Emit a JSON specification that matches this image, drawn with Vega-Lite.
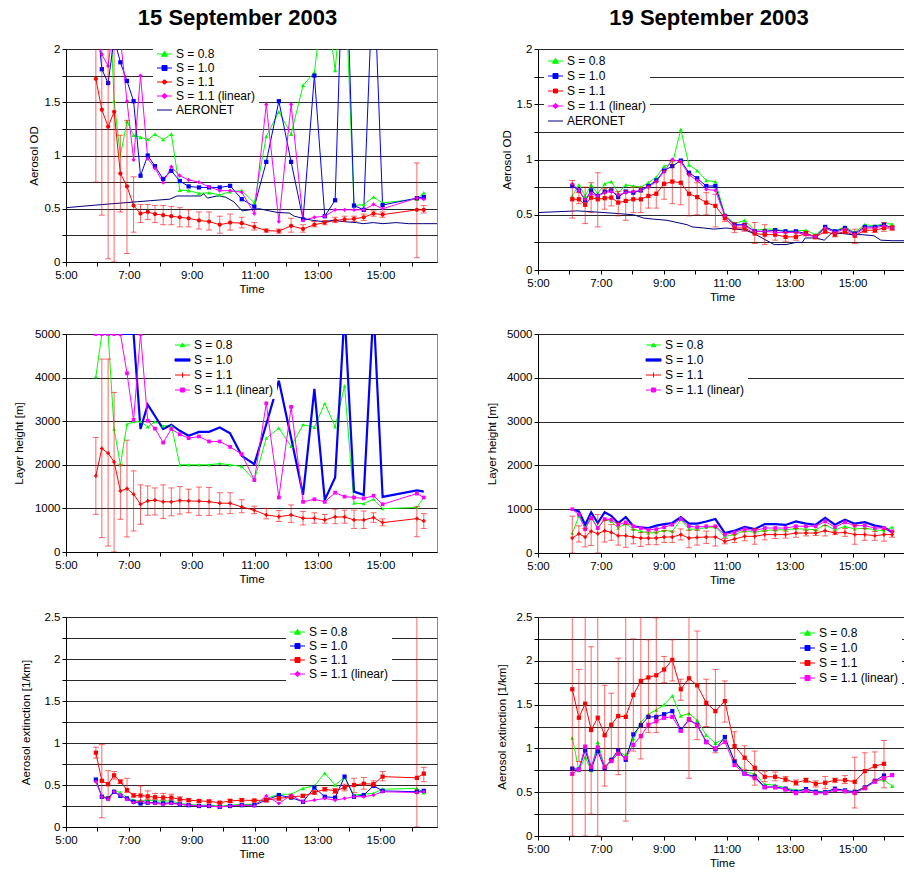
{
"$schema": "https://vega.github.io/schema/vega-lite/v6.json",
"background": "white",
"padding": {"left": 12, "top": 6, "right": 0, "bottom": 0},
"autosize": {"type": "pad"},
"bounds": "flush",
"columns": 2,
"spacing": {"row": 64, "column": 101},
"config": {
  "font": "Liberation Sans",
  "view": {"stroke": null},
  "axis": {"labelFont": "Liberation Sans", "titleFont": "Liberation Sans", "labelFontSize": 11.5, "titleFontSize": 11.5, "titleFontWeight": "normal", "labelColor": "#000", "titleColor": "#000", "domainColor": "#000", "tickColor": "#000", "tickSize": 4, "gridColor": "#2a2a2a", "gridOpacity": 1, "gridWidth": 1, "labelOverlap": false},
  "legend": {"labelFont": "Liberation Sans"},
  "title": {"font": "Liberation Sans", "fontSize": 22, "fontWeight": "bold", "color": "#000"}
},
"datasets": {
"a15": [
{"t":5.95,"s":"S = 0.8","v":2.6},{"t":6.14,"s":"S = 0.8","v":2.9},{"t":6.34,"s":"S = 0.8","v":2.8},{"t":6.53,"s":"S = 0.8","v":1.51},{"t":6.73,"s":"S = 0.8","v":1.0},{"t":6.94,"s":"S = 0.8","v":1.32},{"t":7.15,"s":"S = 0.8","v":1.19},{"t":7.37,"s":"S = 0.8","v":1.17},{"t":7.6,"s":"S = 0.8","v":1.15},{"t":7.83,"s":"S = 0.8","v":1.2},{"t":8.09,"s":"S = 0.8","v":1.15},{"t":8.35,"s":"S = 0.8","v":1.2},{"t":8.62,"s":"S = 0.8","v":0.675},{"t":8.9,"s":"S = 0.8","v":0.67},{"t":9.23,"s":"S = 0.8","v":0.645},{"t":9.55,"s":"S = 0.8","v":0.65},{"t":9.89,"s":"S = 0.8","v":0.63},{"t":10.22,"s":"S = 0.8","v":0.66},{"t":10.59,"s":"S = 0.8","v":0.67},{"t":10.99,"s":"S = 0.8","v":0.555},{"t":11.37,"s":"S = 0.8","v":1.18},{"t":11.77,"s":"S = 0.8","v":1.41},{"t":12.16,"s":"S = 0.8","v":1.2},{"t":12.54,"s":"S = 0.8","v":1.66},{"t":12.9,"s":"S = 0.8","v":1.78},{"t":13.23,"s":"S = 0.8","v":2.6},{"t":13.56,"s":"S = 0.8","v":1.8},{"t":13.86,"s":"S = 0.8","v":2.8},{"t":14.16,"s":"S = 0.8","v":0.53},{"t":14.47,"s":"S = 0.8","v":0.54},{"t":14.78,"s":"S = 0.8","v":0.61},{"t":15.07,"s":"S = 0.8","v":0.555},{"t":16.16,"s":"S = 0.8","v":0.59},{"t":16.38,"s":"S = 0.8","v":0.65},
{"t":5.95,"s":"S = 1.0","v":2.4},{"t":6.14,"s":"S = 1.0","v":1.81},{"t":6.34,"s":"S = 1.0","v":1.68},{"t":6.53,"s":"S = 1.0","v":2.1},{"t":6.73,"s":"S = 1.0","v":1.875},{"t":6.94,"s":"S = 1.0","v":1.7},{"t":7.15,"s":"S = 1.0","v":1.51},{"t":7.37,"s":"S = 1.0","v":0.81},{"t":7.6,"s":"S = 1.0","v":1.0},{"t":7.83,"s":"S = 1.0","v":0.9},{"t":8.09,"s":"S = 1.0","v":0.78},{"t":8.35,"s":"S = 1.0","v":0.855},{"t":8.62,"s":"S = 1.0","v":0.76},{"t":8.9,"s":"S = 1.0","v":0.71},{"t":9.23,"s":"S = 1.0","v":0.7},{"t":9.55,"s":"S = 1.0","v":0.7},{"t":9.89,"s":"S = 1.0","v":0.7},{"t":10.22,"s":"S = 1.0","v":0.715},{"t":10.59,"s":"S = 1.0","v":0.59},{"t":10.99,"s":"S = 1.0","v":0.52},{"t":11.37,"s":"S = 1.0","v":0.94},{"t":11.77,"s":"S = 1.0","v":1.51},{"t":12.16,"s":"S = 1.0","v":0.94},{"t":12.54,"s":"S = 1.0","v":0.4},{"t":12.9,"s":"S = 1.0","v":1.75},{"t":13.23,"s":"S = 1.0","v":0.43},{"t":13.56,"s":"S = 1.0","v":0.58},{"t":13.86,"s":"S = 1.0","v":3.4},{"t":14.16,"s":"S = 1.0","v":0.53},{"t":14.47,"s":"S = 1.0","v":0.49},{"t":14.78,"s":"S = 1.0","v":2.8},{"t":15.07,"s":"S = 1.0","v":0.535},{"t":16.16,"s":"S = 1.0","v":0.6},{"t":16.38,"s":"S = 1.0","v":0.61},
{"t":5.95,"s":"S = 1.1","v":1.72,"lo":0.75,"hi":2.6},{"t":6.14,"s":"S = 1.1","v":1.43,"lo":0.44,"hi":2.6},{"t":6.34,"s":"S = 1.1","v":1.27,"lo":0.03,"hi":2.6},{"t":6.53,"s":"S = 1.1","v":1.41,"lo":0,"hi":2.6},{"t":6.73,"s":"S = 1.1","v":0.83,"lo":0.47,"hi":1.19},{"t":6.94,"s":"S = 1.1","v":0.71,"lo":0.08,"hi":1.33},{"t":7.15,"s":"S = 1.1","v":0.53,"lo":0.28,"hi":0.8},{"t":7.37,"s":"S = 1.1","v":0.455,"lo":0.37,"hi":0.54},{"t":7.6,"s":"S = 1.1","v":0.47,"lo":0.4,"hi":0.54},{"t":7.83,"s":"S = 1.1","v":0.45,"lo":0.37,"hi":0.53},{"t":8.09,"s":"S = 1.1","v":0.44,"lo":0.35,"hi":0.53},{"t":8.35,"s":"S = 1.1","v":0.43,"lo":0.35,"hi":0.52},{"t":8.62,"s":"S = 1.1","v":0.42,"lo":0.33,"hi":0.51},{"t":8.9,"s":"S = 1.1","v":0.41,"lo":0.33,"hi":0.49},{"t":9.23,"s":"S = 1.1","v":0.39,"lo":0.31,"hi":0.47},{"t":9.55,"s":"S = 1.1","v":0.38,"lo":0.3,"hi":0.47},{"t":9.89,"s":"S = 1.1","v":0.35,"lo":0.27,"hi":0.43},{"t":10.22,"s":"S = 1.1","v":0.37,"lo":0.3,"hi":0.45},{"t":10.59,"s":"S = 1.1","v":0.365,"lo":0.32,"hi":0.42},{"t":10.99,"s":"S = 1.1","v":0.33,"lo":0.3,"hi":0.37},{"t":11.37,"s":"S = 1.1","v":0.295,"lo":0.28,"hi":0.31},{"t":11.77,"s":"S = 1.1","v":0.29,"lo":0.27,"hi":0.31},{"t":12.16,"s":"S = 1.1","v":0.34,"lo":0.28,"hi":0.41},{"t":12.54,"s":"S = 1.1","v":0.31,"lo":0.28,"hi":0.35},{"t":12.9,"s":"S = 1.1","v":0.35,"lo":0.33,"hi":0.38},{"t":13.23,"s":"S = 1.1","v":0.37,"lo":0.35,"hi":0.39},{"t":13.56,"s":"S = 1.1","v":0.39,"lo":0.37,"hi":0.42},{"t":13.86,"s":"S = 1.1","v":0.4,"lo":0.38,"hi":0.43},{"t":14.16,"s":"S = 1.1","v":0.405,"lo":0.38,"hi":0.43},{"t":14.47,"s":"S = 1.1","v":0.42,"lo":0.39,"hi":0.45},{"t":14.78,"s":"S = 1.1","v":0.455,"lo":0.43,"hi":0.48},{"t":15.07,"s":"S = 1.1","v":0.445,"lo":0.42,"hi":0.47},{"t":16.16,"s":"S = 1.1","v":0.49,"lo":0.04,"hi":0.93},{"t":16.38,"s":"S = 1.1","v":0.49,"lo":0.46,"hi":0.53},
{"t":5.95,"s":"S = 1.1 (linear)","v":2.15},{"t":6.14,"s":"S = 1.1 (linear)","v":1.95},{"t":6.34,"s":"S = 1.1 (linear)","v":1.84},{"t":6.53,"s":"S = 1.1 (linear)","v":2.3},{"t":6.73,"s":"S = 1.1 (linear)","v":2.1},{"t":6.94,"s":"S = 1.1 (linear)","v":1.51},{"t":7.15,"s":"S = 1.1 (linear)","v":0.96},{"t":7.37,"s":"S = 1.1 (linear)","v":1.75},{"t":7.6,"s":"S = 1.1 (linear)","v":0.97},{"t":7.83,"s":"S = 1.1 (linear)","v":0.88},{"t":8.09,"s":"S = 1.1 (linear)","v":0.745},{"t":8.35,"s":"S = 1.1 (linear)","v":0.895},{"t":8.62,"s":"S = 1.1 (linear)","v":0.81},{"t":8.9,"s":"S = 1.1 (linear)","v":0.77},{"t":9.23,"s":"S = 1.1 (linear)","v":0.75},{"t":9.55,"s":"S = 1.1 (linear)","v":0.705},{"t":9.89,"s":"S = 1.1 (linear)","v":0.67},{"t":10.22,"s":"S = 1.1 (linear)","v":0.67},{"t":10.59,"s":"S = 1.1 (linear)","v":0.655},{"t":10.99,"s":"S = 1.1 (linear)","v":0.455},{"t":11.37,"s":"S = 1.1 (linear)","v":1.48},{"t":11.77,"s":"S = 1.1 (linear)","v":0.38},{"t":12.16,"s":"S = 1.1 (linear)","v":1.48},{"t":12.54,"s":"S = 1.1 (linear)","v":0.39},{"t":12.9,"s":"S = 1.1 (linear)","v":0.42},{"t":13.23,"s":"S = 1.1 (linear)","v":0.43},{"t":13.56,"s":"S = 1.1 (linear)","v":0.49},{"t":13.86,"s":"S = 1.1 (linear)","v":0.49},{"t":14.16,"s":"S = 1.1 (linear)","v":0.49},{"t":14.47,"s":"S = 1.1 (linear)","v":0.49},{"t":14.78,"s":"S = 1.1 (linear)","v":0.54},{"t":15.07,"s":"S = 1.1 (linear)","v":0.5},{"t":16.16,"s":"S = 1.1 (linear)","v":0.6},{"t":16.38,"s":"S = 1.1 (linear)","v":0.59},
{"t":5.0,"s":"AERONET","v":0.51},{"t":6.17,"s":"AERONET","v":0.54},{"t":7.24,"s":"AERONET","v":0.565},{"t":8.3,"s":"AERONET","v":0.59},{"t":8.53,"s":"AERONET","v":0.62},{"t":8.95,"s":"AERONET","v":0.62},{"t":9.28,"s":"AERONET","v":0.62},{"t":9.38,"s":"AERONET","v":0.64},{"t":9.5,"s":"AERONET","v":0.6},{"t":9.8,"s":"AERONET","v":0.62},{"t":10.07,"s":"AERONET","v":0.61},{"t":10.34,"s":"AERONET","v":0.565},{"t":10.6,"s":"AERONET","v":0.48},{"t":10.85,"s":"AERONET","v":0.49},{"t":11.15,"s":"AERONET","v":0.5},{"t":11.47,"s":"AERONET","v":0.48},{"t":11.73,"s":"AERONET","v":0.465},{"t":12.1,"s":"AERONET","v":0.46},{"t":12.26,"s":"AERONET","v":0.43},{"t":12.54,"s":"AERONET","v":0.41},{"t":12.86,"s":"AERONET","v":0.39},{"t":13.17,"s":"AERONET","v":0.38},{"t":13.5,"s":"AERONET","v":0.39},{"t":13.92,"s":"AERONET","v":0.377},{"t":14.24,"s":"AERONET","v":0.37},{"t":14.45,"s":"AERONET","v":0.36},{"t":14.77,"s":"AERONET","v":0.37},{"t":15.08,"s":"AERONET","v":0.36},{"t":15.5,"s":"AERONET","v":0.37},{"t":15.9,"s":"AERONET","v":0.36},{"t":16.33,"s":"AERONET","v":0.36},{"t":16.8,"s":"AERONET","v":0.36}
],
"a19": [
{"t":6.09,"s":"S = 0.8","v":0.67},{"t":6.3,"s":"S = 0.8","v":0.77},{"t":6.5,"s":"S = 0.8","v":0.67},{"t":6.69,"s":"S = 0.8","v":0.77},{"t":6.9,"s":"S = 0.8","v":0.69},{"t":7.12,"s":"S = 0.8","v":0.78},{"t":7.33,"s":"S = 0.8","v":0.8},{"t":7.55,"s":"S = 0.8","v":0.7},{"t":7.79,"s":"S = 0.8","v":0.77},{"t":8.03,"s":"S = 0.8","v":0.76},{"t":8.27,"s":"S = 0.8","v":0.75},{"t":8.51,"s":"S = 0.8","v":0.79},{"t":8.76,"s":"S = 0.8","v":0.84},{"t":9.01,"s":"S = 0.8","v":0.94},{"t":9.27,"s":"S = 0.8","v":0.96},{"t":9.54,"s":"S = 0.8","v":1.27},{"t":9.8,"s":"S = 0.8","v":0.95},{"t":10.06,"s":"S = 0.8","v":0.9},{"t":10.35,"s":"S = 0.8","v":0.81},{"t":10.64,"s":"S = 0.8","v":0.8},{"t":10.94,"s":"S = 0.8","v":0.5},{"t":11.25,"s":"S = 0.8","v":0.42},{"t":11.57,"s":"S = 0.8","v":0.45},{"t":11.89,"s":"S = 0.8","v":0.36},{"t":12.21,"s":"S = 0.8","v":0.37},{"t":12.54,"s":"S = 0.8","v":0.37},{"t":12.87,"s":"S = 0.8","v":0.35},{"t":13.2,"s":"S = 0.8","v":0.355},{"t":13.52,"s":"S = 0.8","v":0.36},{"t":13.83,"s":"S = 0.8","v":0.32},{"t":14.13,"s":"S = 0.8","v":0.39},{"t":14.44,"s":"S = 0.8","v":0.355},{"t":14.76,"s":"S = 0.8","v":0.39},{"t":15.07,"s":"S = 0.8","v":0.34},{"t":15.39,"s":"S = 0.8","v":0.41},{"t":15.71,"s":"S = 0.8","v":0.4},{"t":16.0,"s":"S = 0.8","v":0.42},{"t":16.26,"s":"S = 0.8","v":0.415},
{"t":6.09,"s":"S = 1.0","v":0.76},{"t":6.3,"s":"S = 1.0","v":0.72},{"t":6.5,"s":"S = 1.0","v":0.63},{"t":6.69,"s":"S = 1.0","v":0.72},{"t":6.9,"s":"S = 1.0","v":0.67},{"t":7.12,"s":"S = 1.0","v":0.71},{"t":7.33,"s":"S = 1.0","v":0.72},{"t":7.55,"s":"S = 1.0","v":0.66},{"t":7.79,"s":"S = 1.0","v":0.71},{"t":8.03,"s":"S = 1.0","v":0.7},{"t":8.27,"s":"S = 1.0","v":0.72},{"t":8.51,"s":"S = 1.0","v":0.76},{"t":8.76,"s":"S = 1.0","v":0.81},{"t":9.01,"s":"S = 1.0","v":0.9},{"t":9.27,"s":"S = 1.0","v":0.94},{"t":9.54,"s":"S = 1.0","v":0.99},{"t":9.8,"s":"S = 1.0","v":0.88},{"t":10.06,"s":"S = 1.0","v":0.83},{"t":10.35,"s":"S = 1.0","v":0.76},{"t":10.64,"s":"S = 1.0","v":0.76},{"t":10.94,"s":"S = 1.0","v":0.49},{"t":11.25,"s":"S = 1.0","v":0.41},{"t":11.57,"s":"S = 1.0","v":0.41},{"t":11.89,"s":"S = 1.0","v":0.35},{"t":12.21,"s":"S = 1.0","v":0.35},{"t":12.54,"s":"S = 1.0","v":0.36},{"t":12.87,"s":"S = 1.0","v":0.35},{"t":13.2,"s":"S = 1.0","v":0.35},{"t":13.52,"s":"S = 1.0","v":0.33},{"t":13.83,"s":"S = 1.0","v":0.3},{"t":14.13,"s":"S = 1.0","v":0.39},{"t":14.44,"s":"S = 1.0","v":0.35},{"t":14.76,"s":"S = 1.0","v":0.38},{"t":15.07,"s":"S = 1.0","v":0.33},{"t":15.39,"s":"S = 1.0","v":0.39},{"t":15.71,"s":"S = 1.0","v":0.39},{"t":16.0,"s":"S = 1.0","v":0.41},{"t":16.26,"s":"S = 1.0","v":0.38},
{"t":6.09,"s":"S = 1.1","v":0.64,"lo":0.47,"hi":0.81},{"t":6.3,"s":"S = 1.1","v":0.64,"lo":0.6,"hi":0.7},{"t":6.5,"s":"S = 1.1","v":0.59,"lo":0.42,"hi":0.75},{"t":6.69,"s":"S = 1.1","v":0.655,"lo":0.52,"hi":0.79},{"t":6.9,"s":"S = 1.1","v":0.64,"lo":0.39,"hi":0.88},{"t":7.12,"s":"S = 1.1","v":0.65,"lo":0.55,"hi":0.74},{"t":7.33,"s":"S = 1.1","v":0.655,"lo":0.58,"hi":0.73},{"t":7.55,"s":"S = 1.1","v":0.61,"lo":0.49,"hi":0.71},{"t":7.79,"s":"S = 1.1","v":0.625,"lo":0.45,"hi":0.72},{"t":8.03,"s":"S = 1.1","v":0.64,"lo":0.52,"hi":0.75},{"t":8.27,"s":"S = 1.1","v":0.64,"lo":0.52,"hi":0.75},{"t":8.51,"s":"S = 1.1","v":0.67,"lo":0.56,"hi":0.76},{"t":8.76,"s":"S = 1.1","v":0.69,"lo":0.56,"hi":0.8},{"t":9.01,"s":"S = 1.1","v":0.78,"lo":0.64,"hi":0.9},{"t":9.27,"s":"S = 1.1","v":0.8,"lo":0.6,"hi":0.98},{"t":9.54,"s":"S = 1.1","v":0.79,"lo":0.59,"hi":0.98},{"t":9.8,"s":"S = 1.1","v":0.69,"lo":0.49,"hi":0.87},{"t":10.06,"s":"S = 1.1","v":0.66,"lo":0.5,"hi":0.79},{"t":10.35,"s":"S = 1.1","v":0.61,"lo":0.5,"hi":0.7},{"t":10.64,"s":"S = 1.1","v":0.58,"lo":0.39,"hi":0.685},{"t":10.94,"s":"S = 1.1","v":0.47,"lo":0.44,"hi":0.5},{"t":11.25,"s":"S = 1.1","v":0.38,"lo":0.34,"hi":0.43},{"t":11.57,"s":"S = 1.1","v":0.38,"lo":0.35,"hi":0.42},{"t":11.89,"s":"S = 1.1","v":0.33,"lo":0.24,"hi":0.43},{"t":12.21,"s":"S = 1.1","v":0.32,"lo":0.23,"hi":0.41},{"t":12.54,"s":"S = 1.1","v":0.32,"lo":0.27,"hi":0.36},{"t":12.87,"s":"S = 1.1","v":0.3,"lo":0.26,"hi":0.34},{"t":13.2,"s":"S = 1.1","v":0.3,"lo":0.27,"hi":0.34},{"t":13.52,"s":"S = 1.1","v":0.33,"lo":0.31,"hi":0.35},{"t":13.83,"s":"S = 1.1","v":0.3,"lo":0.28,"hi":0.32},{"t":14.13,"s":"S = 1.1","v":0.35,"lo":0.33,"hi":0.37},{"t":14.44,"s":"S = 1.1","v":0.32,"lo":0.3,"hi":0.34},{"t":14.76,"s":"S = 1.1","v":0.35,"lo":0.33,"hi":0.37},{"t":15.07,"s":"S = 1.1","v":0.31,"lo":0.24,"hi":0.37},{"t":15.39,"s":"S = 1.1","v":0.36,"lo":0.34,"hi":0.38},{"t":15.71,"s":"S = 1.1","v":0.36,"lo":0.34,"hi":0.38},{"t":16.0,"s":"S = 1.1","v":0.38,"lo":0.35,"hi":0.43},{"t":16.26,"s":"S = 1.1","v":0.38,"lo":0.36,"hi":0.4},
{"t":6.09,"s":"S = 1.1 (linear)","v":0.78},{"t":6.3,"s":"S = 1.1 (linear)","v":0.72},{"t":6.5,"s":"S = 1.1 (linear)","v":0.64},{"t":6.69,"s":"S = 1.1 (linear)","v":0.69},{"t":6.9,"s":"S = 1.1 (linear)","v":0.67},{"t":7.12,"s":"S = 1.1 (linear)","v":0.7},{"t":7.33,"s":"S = 1.1 (linear)","v":0.71},{"t":7.55,"s":"S = 1.1 (linear)","v":0.68},{"t":7.79,"s":"S = 1.1 (linear)","v":0.7},{"t":8.03,"s":"S = 1.1 (linear)","v":0.71},{"t":8.27,"s":"S = 1.1 (linear)","v":0.72},{"t":8.51,"s":"S = 1.1 (linear)","v":0.75},{"t":8.76,"s":"S = 1.1 (linear)","v":0.8},{"t":9.01,"s":"S = 1.1 (linear)","v":0.89},{"t":9.27,"s":"S = 1.1 (linear)","v":1.0},{"t":9.54,"s":"S = 1.1 (linear)","v":0.98},{"t":9.8,"s":"S = 1.1 (linear)","v":0.86},{"t":10.06,"s":"S = 1.1 (linear)","v":0.81},{"t":10.35,"s":"S = 1.1 (linear)","v":0.73},{"t":10.64,"s":"S = 1.1 (linear)","v":0.72},{"t":10.94,"s":"S = 1.1 (linear)","v":0.49},{"t":11.25,"s":"S = 1.1 (linear)","v":0.4},{"t":11.57,"s":"S = 1.1 (linear)","v":0.4},{"t":11.89,"s":"S = 1.1 (linear)","v":0.35},{"t":12.21,"s":"S = 1.1 (linear)","v":0.35},{"t":12.54,"s":"S = 1.1 (linear)","v":0.34},{"t":12.87,"s":"S = 1.1 (linear)","v":0.34},{"t":13.2,"s":"S = 1.1 (linear)","v":0.34},{"t":13.52,"s":"S = 1.1 (linear)","v":0.32},{"t":13.83,"s":"S = 1.1 (linear)","v":0.3},{"t":14.13,"s":"S = 1.1 (linear)","v":0.38},{"t":14.44,"s":"S = 1.1 (linear)","v":0.34},{"t":14.76,"s":"S = 1.1 (linear)","v":0.37},{"t":15.07,"s":"S = 1.1 (linear)","v":0.32},{"t":15.39,"s":"S = 1.1 (linear)","v":0.38},{"t":15.71,"s":"S = 1.1 (linear)","v":0.38},{"t":16.0,"s":"S = 1.1 (linear)","v":0.4},{"t":16.26,"s":"S = 1.1 (linear)","v":0.38},
{"t":5.0,"s":"AERONET","v":0.52},{"t":6.25,"s":"AERONET","v":0.535},{"t":7.1,"s":"AERONET","v":0.52},{"t":7.56,"s":"AERONET","v":0.51},{"t":8.04,"s":"AERONET","v":0.5},{"t":8.36,"s":"AERONET","v":0.47},{"t":8.68,"s":"AERONET","v":0.46},{"t":9.1,"s":"AERONET","v":0.45},{"t":9.42,"s":"AERONET","v":0.43},{"t":9.74,"s":"AERONET","v":0.41},{"t":9.9,"s":"AERONET","v":0.39},{"t":10.27,"s":"AERONET","v":0.38},{"t":10.59,"s":"AERONET","v":0.37},{"t":10.98,"s":"AERONET","v":0.38},{"t":11.3,"s":"AERONET","v":0.37},{"t":11.61,"s":"AERONET","v":0.36},{"t":11.93,"s":"AERONET","v":0.32},{"t":12.25,"s":"AERONET","v":0.27},{"t":12.51,"s":"AERONET","v":0.23},{"t":12.89,"s":"AERONET","v":0.23},{"t":13.2,"s":"AERONET","v":0.25},{"t":13.4,"s":"AERONET","v":0.25},{"t":13.5,"s":"AERONET","v":0.29},{"t":13.83,"s":"AERONET","v":0.29},{"t":14.1,"s":"AERONET","v":0.27},{"t":14.36,"s":"AERONET","v":0.34},{"t":14.67,"s":"AERONET","v":0.33},{"t":14.99,"s":"AERONET","v":0.32},{"t":15.3,"s":"AERONET","v":0.32},{"t":15.68,"s":"AERONET","v":0.31},{"t":15.9,"s":"AERONET","v":0.27},{"t":16.26,"s":"AERONET","v":0.265},{"t":16.8,"s":"AERONET","v":0.265}
],
"h15": [
{"t":5.95,"s":"S = 0.8","v":4020},{"t":6.14,"s":"S = 0.8","v":5000},{"t":6.34,"s":"S = 0.8","v":5000},{"t":6.53,"s":"S = 0.8","v":2820},{"t":6.73,"s":"S = 0.8","v":2000},{"t":6.94,"s":"S = 0.8","v":2930},{"t":7.15,"s":"S = 0.8","v":2990},{"t":7.37,"s":"S = 0.8","v":2990},{"t":7.6,"s":"S = 0.8","v":2870},{"t":7.83,"s":"S = 0.8","v":2990},{"t":8.09,"s":"S = 0.8","v":2895},{"t":8.35,"s":"S = 0.8","v":2895},{"t":8.62,"s":"S = 0.8","v":2000},{"t":8.9,"s":"S = 0.8","v":2000},{"t":9.23,"s":"S = 0.8","v":2000},{"t":9.55,"s":"S = 0.8","v":2000},{"t":9.89,"s":"S = 0.8","v":2030},{"t":10.22,"s":"S = 0.8","v":2000},{"t":10.59,"s":"S = 0.8","v":1960},{"t":10.99,"s":"S = 0.8","v":1650},{"t":11.37,"s":"S = 0.8","v":2610},{"t":11.77,"s":"S = 0.8","v":2840},{"t":12.16,"s":"S = 0.8","v":2420},{"t":12.54,"s":"S = 0.8","v":2920},{"t":12.9,"s":"S = 0.8","v":2860},{"t":13.23,"s":"S = 0.8","v":3410},{"t":13.56,"s":"S = 0.8","v":2870},{"t":13.86,"s":"S = 0.8","v":3810},{"t":14.16,"s":"S = 0.8","v":1120},{"t":14.47,"s":"S = 0.8","v":1110},{"t":14.78,"s":"S = 0.8","v":1210},{"t":15.07,"s":"S = 0.8","v":995},{"t":16.16,"s":"S = 0.8","v":1020},{"t":16.38,"s":"S = 0.8","v":1250},
{"t":5.95,"s":"S = 1.0","v":5000},{"t":6.14,"s":"S = 1.0","v":5000},{"t":6.34,"s":"S = 1.0","v":5000},{"t":6.53,"s":"S = 1.0","v":5000},{"t":6.73,"s":"S = 1.0","v":5000},{"t":6.94,"s":"S = 1.0","v":5000},{"t":7.15,"s":"S = 1.0","v":5000},{"t":7.37,"s":"S = 1.0","v":2820},{"t":7.6,"s":"S = 1.0","v":3380},{"t":7.83,"s":"S = 1.0","v":3120},{"t":8.09,"s":"S = 1.0","v":2820},{"t":8.35,"s":"S = 1.0","v":2920},{"t":8.62,"s":"S = 1.0","v":2780},{"t":8.9,"s":"S = 1.0","v":2665},{"t":9.23,"s":"S = 1.0","v":2755},{"t":9.55,"s":"S = 1.0","v":2755},{"t":9.89,"s":"S = 1.0","v":2855},{"t":10.22,"s":"S = 1.0","v":2720},{"t":10.59,"s":"S = 1.0","v":2205},{"t":10.99,"s":"S = 1.0","v":2015},{"t":11.37,"s":"S = 1.0","v":2930},{"t":11.77,"s":"S = 1.0","v":3930},{"t":12.16,"s":"S = 1.0","v":2620},{"t":12.54,"s":"S = 1.0","v":1310},{"t":12.9,"s":"S = 1.0","v":3740},{"t":13.23,"s":"S = 1.0","v":1195},{"t":13.56,"s":"S = 1.0","v":1710},{"t":13.86,"s":"S = 1.0","v":5500},{"t":14.16,"s":"S = 1.0","v":1385},{"t":14.47,"s":"S = 1.0","v":1310},{"t":14.78,"s":"S = 1.0","v":5600},{"t":15.07,"s":"S = 1.0","v":1265},{"t":16.16,"s":"S = 1.0","v":1415},{"t":16.38,"s":"S = 1.0","v":1385},
{"t":5.95,"s":"S = 1.1","v":1746,"lo":865,"hi":2627},{"t":6.14,"s":"S = 1.1","v":2374,"lo":330,"hi":4426},{"t":6.34,"s":"S = 1.1","v":2266,"lo":138,"hi":4426},{"t":6.53,"s":"S = 1.1","v":2067,"lo":0,"hi":3660},{"t":6.73,"s":"S = 1.1","v":1400,"lo":750,"hi":2014},{"t":6.94,"s":"S = 1.1","v":1455,"lo":345,"hi":2565},{"t":7.15,"s":"S = 1.1","v":1325,"lo":482,"hi":1860},{"t":7.37,"s":"S = 1.1","v":1095,"lo":635,"hi":1540},{"t":7.6,"s":"S = 1.1","v":1172,"lo":842,"hi":1516},{"t":7.83,"s":"S = 1.1","v":1190,"lo":850,"hi":1470},{"t":8.09,"s":"S = 1.1","v":1155,"lo":770,"hi":1540},{"t":8.35,"s":"S = 1.1","v":1150,"lo":830,"hi":1470},{"t":8.62,"s":"S = 1.1","v":1180,"lo":870,"hi":1500},{"t":8.9,"s":"S = 1.1","v":1170,"lo":900,"hi":1440},{"t":9.23,"s":"S = 1.1","v":1165,"lo":840,"hi":1490},{"t":9.55,"s":"S = 1.1","v":1155,"lo":840,"hi":1480},{"t":9.89,"s":"S = 1.1","v":1120,"lo":870,"hi":1360},{"t":10.22,"s":"S = 1.1","v":1118,"lo":880,"hi":1360},{"t":10.59,"s":"S = 1.1","v":1034,"lo":900,"hi":1200},{"t":10.99,"s":"S = 1.1","v":957,"lo":880,"hi":1050},{"t":11.37,"s":"S = 1.1","v":850,"lo":760,"hi":1000},{"t":11.77,"s":"S = 1.1","v":810,"lo":700,"hi":950},{"t":12.16,"s":"S = 1.1","v":850,"lo":680,"hi":1080},{"t":12.54,"s":"S = 1.1","v":773,"lo":620,"hi":930},{"t":12.9,"s":"S = 1.1","v":773,"lo":660,"hi":900},{"t":13.23,"s":"S = 1.1","v":735,"lo":660,"hi":860},{"t":13.56,"s":"S = 1.1","v":804,"lo":650,"hi":980},{"t":13.86,"s":"S = 1.1","v":804,"lo":660,"hi":960},{"t":14.16,"s":"S = 1.1","v":735,"lo":540,"hi":960},{"t":14.47,"s":"S = 1.1","v":735,"lo":540,"hi":940},{"t":14.78,"s":"S = 1.1","v":790,"lo":680,"hi":900},{"t":15.07,"s":"S = 1.1","v":674,"lo":600,"hi":760},{"t":16.16,"s":"S = 1.1","v":766,"lo":350,"hi":1040},{"t":16.38,"s":"S = 1.1","v":712,"lo":540,"hi":880},
{"t":5.95,"s":"S = 1.1 (linear)","v":5000},{"t":6.14,"s":"S = 1.1 (linear)","v":5000},{"t":6.34,"s":"S = 1.1 (linear)","v":5000},{"t":6.53,"s":"S = 1.1 (linear)","v":5000},{"t":6.73,"s":"S = 1.1 (linear)","v":5000},{"t":6.94,"s":"S = 1.1 (linear)","v":4100},{"t":7.15,"s":"S = 1.1 (linear)","v":3030},{"t":7.37,"s":"S = 1.1 (linear)","v":5000},{"t":7.6,"s":"S = 1.1 (linear)","v":3010},{"t":7.83,"s":"S = 1.1 (linear)","v":2830},{"t":8.09,"s":"S = 1.1 (linear)","v":2510},{"t":8.35,"s":"S = 1.1 (linear)","v":2820},{"t":8.62,"s":"S = 1.1 (linear)","v":2700},{"t":8.9,"s":"S = 1.1 (linear)","v":2610},{"t":9.23,"s":"S = 1.1 (linear)","v":2650},{"t":9.55,"s":"S = 1.1 (linear)","v":2535},{"t":9.89,"s":"S = 1.1 (linear)","v":2535},{"t":10.22,"s":"S = 1.1 (linear)","v":2410},{"t":10.59,"s":"S = 1.1 (linear)","v":2245},{"t":10.99,"s":"S = 1.1 (linear)","v":1650},{"t":11.37,"s":"S = 1.1 (linear)","v":3410},{"t":11.77,"s":"S = 1.1 (linear)","v":1250},{"t":12.16,"s":"S = 1.1 (linear)","v":3330},{"t":12.54,"s":"S = 1.1 (linear)","v":1150},{"t":12.9,"s":"S = 1.1 (linear)","v":1210},{"t":13.23,"s":"S = 1.1 (linear)","v":1150},{"t":13.56,"s":"S = 1.1 (linear)","v":1360},{"t":13.86,"s":"S = 1.1 (linear)","v":1270},{"t":14.16,"s":"S = 1.1 (linear)","v":1250},{"t":14.47,"s":"S = 1.1 (linear)","v":1230},{"t":14.78,"s":"S = 1.1 (linear)","v":1290},{"t":15.07,"s":"S = 1.1 (linear)","v":1095},{"t":16.16,"s":"S = 1.1 (linear)","v":1340},{"t":16.38,"s":"S = 1.1 (linear)","v":1250}
],
"h19": [
{"t":6.09,"s":"S = 0.8","v":455},{"t":6.3,"s":"S = 0.8","v":835},{"t":6.5,"s":"S = 0.8","v":570},{"t":6.69,"s":"S = 0.8","v":835},{"t":6.9,"s":"S = 0.8","v":570},{"t":7.12,"s":"S = 0.8","v":760},{"t":7.33,"s":"S = 0.8","v":720},{"t":7.55,"s":"S = 0.8","v":570},{"t":7.79,"s":"S = 0.8","v":670},{"t":8.03,"s":"S = 0.8","v":545},{"t":8.27,"s":"S = 0.8","v":495},{"t":8.51,"s":"S = 0.8","v":455},{"t":8.76,"s":"S = 0.8","v":470},{"t":9.01,"s":"S = 0.8","v":515},{"t":9.27,"s":"S = 0.8","v":495},{"t":9.54,"s":"S = 0.8","v":760},{"t":9.8,"s":"S = 0.8","v":545},{"t":10.06,"s":"S = 0.8","v":545},{"t":10.35,"s":"S = 0.8","v":585},{"t":10.64,"s":"S = 0.8","v":590},{"t":10.94,"s":"S = 0.8","v":380},{"t":11.25,"s":"S = 0.8","v":420},{"t":11.57,"s":"S = 0.8","v":515},{"t":11.89,"s":"S = 0.8","v":470},{"t":12.21,"s":"S = 0.8","v":515},{"t":12.54,"s":"S = 0.8","v":530},{"t":12.87,"s":"S = 0.8","v":530},{"t":13.2,"s":"S = 0.8","v":555},{"t":13.52,"s":"S = 0.8","v":545},{"t":13.83,"s":"S = 0.8","v":530},{"t":14.13,"s":"S = 0.8","v":645},{"t":14.44,"s":"S = 0.8","v":530},{"t":14.76,"s":"S = 0.8","v":610},{"t":15.07,"s":"S = 0.8","v":545},{"t":15.39,"s":"S = 0.8","v":570},{"t":15.71,"s":"S = 0.8","v":530},{"t":16.0,"s":"S = 0.8","v":510},{"t":16.26,"s":"S = 0.8","v":590},
{"t":6.09,"s":"S = 1.0","v":1000},{"t":6.3,"s":"S = 1.0","v":950},{"t":6.5,"s":"S = 1.0","v":645},{"t":6.69,"s":"S = 1.0","v":930},{"t":6.9,"s":"S = 1.0","v":685},{"t":7.12,"s":"S = 1.0","v":930},{"t":7.33,"s":"S = 1.0","v":850},{"t":7.55,"s":"S = 1.0","v":685},{"t":7.79,"s":"S = 1.0","v":820},{"t":8.03,"s":"S = 1.0","v":610},{"t":8.27,"s":"S = 1.0","v":585},{"t":8.51,"s":"S = 1.0","v":570},{"t":8.76,"s":"S = 1.0","v":625},{"t":9.01,"s":"S = 1.0","v":660},{"t":9.27,"s":"S = 1.0","v":685},{"t":9.54,"s":"S = 1.0","v":820},{"t":9.8,"s":"S = 1.0","v":670},{"t":10.06,"s":"S = 1.0","v":670},{"t":10.35,"s":"S = 1.0","v":720},{"t":10.64,"s":"S = 1.0","v":775},{"t":10.94,"s":"S = 1.0","v":455},{"t":11.25,"s":"S = 1.0","v":510},{"t":11.57,"s":"S = 1.0","v":595},{"t":11.89,"s":"S = 1.0","v":545},{"t":12.21,"s":"S = 1.0","v":660},{"t":12.54,"s":"S = 1.0","v":660},{"t":12.87,"s":"S = 1.0","v":640},{"t":13.2,"s":"S = 1.0","v":720},{"t":13.52,"s":"S = 1.0","v":670},{"t":13.83,"s":"S = 1.0","v":645},{"t":14.13,"s":"S = 1.0","v":800},{"t":14.44,"s":"S = 1.0","v":645},{"t":14.76,"s":"S = 1.0","v":760},{"t":15.07,"s":"S = 1.0","v":670},{"t":15.39,"s":"S = 1.0","v":705},{"t":15.71,"s":"S = 1.0","v":625},{"t":16.0,"s":"S = 1.0","v":585},{"t":16.26,"s":"S = 1.0","v":470},
{"t":6.09,"s":"S = 1.1","v":340,"lo":0,"hi":840},{"t":6.3,"s":"S = 1.1","v":440,"lo":250,"hi":620},{"t":6.5,"s":"S = 1.1","v":365,"lo":140,"hi":560},{"t":6.69,"s":"S = 1.1","v":495,"lo":170,"hi":770},{"t":6.9,"s":"S = 1.1","v":440,"lo":0,"hi":880},{"t":7.12,"s":"S = 1.1","v":510,"lo":250,"hi":750},{"t":7.33,"s":"S = 1.1","v":470,"lo":290,"hi":650},{"t":7.55,"s":"S = 1.1","v":395,"lo":180,"hi":700},{"t":7.79,"s":"S = 1.1","v":395,"lo":130,"hi":650},{"t":8.03,"s":"S = 1.1","v":365,"lo":210,"hi":530},{"t":8.27,"s":"S = 1.1","v":340,"lo":150,"hi":470},{"t":8.51,"s":"S = 1.1","v":340,"lo":190,"hi":480},{"t":8.76,"s":"S = 1.1","v":340,"lo":190,"hi":480},{"t":9.01,"s":"S = 1.1","v":365,"lo":240,"hi":510},{"t":9.27,"s":"S = 1.1","v":365,"lo":240,"hi":500},{"t":9.54,"s":"S = 1.1","v":420,"lo":300,"hi":550},{"t":9.8,"s":"S = 1.1","v":340,"lo":120,"hi":520},{"t":10.06,"s":"S = 1.1","v":355,"lo":180,"hi":520},{"t":10.35,"s":"S = 1.1","v":365,"lo":220,"hi":500},{"t":10.64,"s":"S = 1.1","v":365,"lo":160,"hi":600},{"t":10.94,"s":"S = 1.1","v":265,"lo":210,"hi":330},{"t":11.25,"s":"S = 1.1","v":320,"lo":240,"hi":420},{"t":11.57,"s":"S = 1.1","v":380,"lo":280,"hi":480},{"t":11.89,"s":"S = 1.1","v":380,"lo":200,"hi":560},{"t":12.21,"s":"S = 1.1","v":420,"lo":300,"hi":500},{"t":12.54,"s":"S = 1.1","v":420,"lo":330,"hi":510},{"t":12.87,"s":"S = 1.1","v":420,"lo":340,"hi":500},{"t":13.2,"s":"S = 1.1","v":455,"lo":360,"hi":560},{"t":13.52,"s":"S = 1.1","v":455,"lo":390,"hi":520},{"t":13.83,"s":"S = 1.1","v":455,"lo":400,"hi":520},{"t":14.13,"s":"S = 1.1","v":510,"lo":390,"hi":630},{"t":14.44,"s":"S = 1.1","v":455,"lo":420,"hi":500},{"t":14.76,"s":"S = 1.1","v":470,"lo":380,"hi":560},{"t":15.07,"s":"S = 1.1","v":420,"lo":200,"hi":640},{"t":15.39,"s":"S = 1.1","v":420,"lo":290,"hi":560},{"t":15.71,"s":"S = 1.1","v":395,"lo":290,"hi":490},{"t":16.0,"s":"S = 1.1","v":420,"lo":270,"hi":540},{"t":16.26,"s":"S = 1.1","v":420,"lo":360,"hi":500},
{"t":6.09,"s":"S = 1.1 (linear)","v":1000},{"t":6.3,"s":"S = 1.1 (linear)","v":875},{"t":6.5,"s":"S = 1.1 (linear)","v":545},{"t":6.69,"s":"S = 1.1 (linear)","v":800},{"t":6.9,"s":"S = 1.1 (linear)","v":570},{"t":7.12,"s":"S = 1.1 (linear)","v":775},{"t":7.33,"s":"S = 1.1 (linear)","v":760},{"t":7.55,"s":"S = 1.1 (linear)","v":645},{"t":7.79,"s":"S = 1.1 (linear)","v":700},{"t":8.03,"s":"S = 1.1 (linear)","v":610},{"t":8.27,"s":"S = 1.1 (linear)","v":570},{"t":8.51,"s":"S = 1.1 (linear)","v":530},{"t":8.76,"s":"S = 1.1 (linear)","v":545},{"t":9.01,"s":"S = 1.1 (linear)","v":590},{"t":9.27,"s":"S = 1.1 (linear)","v":645},{"t":9.54,"s":"S = 1.1 (linear)","v":775},{"t":9.8,"s":"S = 1.1 (linear)","v":610},{"t":10.06,"s":"S = 1.1 (linear)","v":590},{"t":10.35,"s":"S = 1.1 (linear)","v":610},{"t":10.64,"s":"S = 1.1 (linear)","v":610},{"t":10.94,"s":"S = 1.1 (linear)","v":420},{"t":11.25,"s":"S = 1.1 (linear)","v":470},{"t":11.57,"s":"S = 1.1 (linear)","v":545},{"t":11.89,"s":"S = 1.1 (linear)","v":510},{"t":12.21,"s":"S = 1.1 (linear)","v":570},{"t":12.54,"s":"S = 1.1 (linear)","v":570},{"t":12.87,"s":"S = 1.1 (linear)","v":570},{"t":13.2,"s":"S = 1.1 (linear)","v":610},{"t":13.52,"s":"S = 1.1 (linear)","v":610},{"t":13.83,"s":"S = 1.1 (linear)","v":610},{"t":14.13,"s":"S = 1.1 (linear)","v":720},{"t":14.44,"s":"S = 1.1 (linear)","v":590},{"t":14.76,"s":"S = 1.1 (linear)","v":700},{"t":15.07,"s":"S = 1.1 (linear)","v":625},{"t":15.39,"s":"S = 1.1 (linear)","v":625},{"t":15.71,"s":"S = 1.1 (linear)","v":570},{"t":16.0,"s":"S = 1.1 (linear)","v":570},{"t":16.26,"s":"S = 1.1 (linear)","v":495}
],
"e15": [
{"t":5.95,"s":"S = 0.8","v":0.55},{"t":6.14,"s":"S = 0.8","v":0.37},{"t":6.34,"s":"S = 0.8","v":0.35},{"t":6.53,"s":"S = 0.8","v":0.43},{"t":6.73,"s":"S = 0.8","v":0.41},{"t":6.94,"s":"S = 0.8","v":0.35},{"t":7.15,"s":"S = 0.8","v":0.32},{"t":7.37,"s":"S = 0.8","v":0.31},{"t":7.6,"s":"S = 0.8","v":0.32},{"t":7.83,"s":"S = 0.8","v":0.31},{"t":8.09,"s":"S = 0.8","v":0.31},{"t":8.35,"s":"S = 0.8","v":0.31},{"t":8.62,"s":"S = 0.8","v":0.28},{"t":8.9,"s":"S = 0.8","v":0.27},{"t":9.23,"s":"S = 0.8","v":0.26},{"t":9.55,"s":"S = 0.8","v":0.26},{"t":9.89,"s":"S = 0.8","v":0.25},{"t":10.22,"s":"S = 0.8","v":0.26},{"t":10.59,"s":"S = 0.8","v":0.27},{"t":10.99,"s":"S = 0.8","v":0.27},{"t":11.37,"s":"S = 0.8","v":0.34},{"t":11.77,"s":"S = 0.8","v":0.39},{"t":12.16,"s":"S = 0.8","v":0.39},{"t":12.54,"s":"S = 0.8","v":0.46},{"t":12.9,"s":"S = 0.8","v":0.49},{"t":13.23,"s":"S = 0.8","v":0.64},{"t":13.56,"s":"S = 0.8","v":0.5},{"t":13.86,"s":"S = 0.8","v":0.59},{"t":14.16,"s":"S = 0.8","v":0.38},{"t":14.47,"s":"S = 0.8","v":0.39},{"t":14.78,"s":"S = 0.8","v":0.4},{"t":15.07,"s":"S = 0.8","v":0.45},{"t":16.16,"s":"S = 0.8","v":0.46},{"t":16.38,"s":"S = 0.8","v":0.41},
{"t":5.95,"s":"S = 1.0","v":0.565},{"t":6.14,"s":"S = 1.0","v":0.36},{"t":6.34,"s":"S = 1.0","v":0.34},{"t":6.53,"s":"S = 1.0","v":0.42},{"t":6.73,"s":"S = 1.0","v":0.37},{"t":6.94,"s":"S = 1.0","v":0.34},{"t":7.15,"s":"S = 1.0","v":0.3},{"t":7.37,"s":"S = 1.0","v":0.28},{"t":7.6,"s":"S = 1.0","v":0.29},{"t":7.83,"s":"S = 1.0","v":0.29},{"t":8.09,"s":"S = 1.0","v":0.28},{"t":8.35,"s":"S = 1.0","v":0.29},{"t":8.62,"s":"S = 1.0","v":0.27},{"t":8.9,"s":"S = 1.0","v":0.26},{"t":9.23,"s":"S = 1.0","v":0.25},{"t":9.55,"s":"S = 1.0","v":0.25},{"t":9.89,"s":"S = 1.0","v":0.24},{"t":10.22,"s":"S = 1.0","v":0.25},{"t":10.59,"s":"S = 1.0","v":0.26},{"t":10.99,"s":"S = 1.0","v":0.26},{"t":11.37,"s":"S = 1.0","v":0.32},{"t":11.77,"s":"S = 1.0","v":0.38},{"t":12.16,"s":"S = 1.0","v":0.35},{"t":12.54,"s":"S = 1.0","v":0.3},{"t":12.9,"s":"S = 1.0","v":0.47},{"t":13.23,"s":"S = 1.0","v":0.36},{"t":13.56,"s":"S = 1.0","v":0.35},{"t":13.86,"s":"S = 1.0","v":0.6},{"t":14.16,"s":"S = 1.0","v":0.36},{"t":14.47,"s":"S = 1.0","v":0.38},{"t":14.78,"s":"S = 1.0","v":0.49},{"t":15.07,"s":"S = 1.0","v":0.43},{"t":16.16,"s":"S = 1.0","v":0.42},{"t":16.38,"s":"S = 1.0","v":0.43},
{"t":5.95,"s":"S = 1.1","v":0.885,"lo":0.82,"hi":0.95},{"t":6.14,"s":"S = 1.1","v":0.55,"lo":0.11,"hi":0.98},{"t":6.34,"s":"S = 1.1","v":0.51,"lo":0.35,"hi":0.67},{"t":6.53,"s":"S = 1.1","v":0.615,"lo":0.57,"hi":0.66},{"t":6.73,"s":"S = 1.1","v":0.54,"lo":0.52,"hi":0.56},{"t":6.94,"s":"S = 1.1","v":0.44,"lo":0.41,"hi":0.58},{"t":7.15,"s":"S = 1.1","v":0.375,"lo":0.36,"hi":0.4},{"t":7.37,"s":"S = 1.1","v":0.375,"lo":0.3,"hi":0.49},{"t":7.6,"s":"S = 1.1","v":0.365,"lo":0.33,"hi":0.43},{"t":7.83,"s":"S = 1.1","v":0.355,"lo":0.33,"hi":0.4},{"t":8.09,"s":"S = 1.1","v":0.35,"lo":0.32,"hi":0.4},{"t":8.35,"s":"S = 1.1","v":0.35,"lo":0.32,"hi":0.39},{"t":8.62,"s":"S = 1.1","v":0.33,"lo":0.31,"hi":0.36},{"t":8.9,"s":"S = 1.1","v":0.32,"lo":0.3,"hi":0.34},{"t":9.23,"s":"S = 1.1","v":0.31,"lo":0.29,"hi":0.32},{"t":9.55,"s":"S = 1.1","v":0.305,"lo":0.29,"hi":0.32},{"t":9.89,"s":"S = 1.1","v":0.29,"lo":0.28,"hi":0.3},{"t":10.22,"s":"S = 1.1","v":0.31,"lo":0.29,"hi":0.33},{"t":10.59,"s":"S = 1.1","v":0.32,"lo":0.3,"hi":0.34},{"t":10.99,"s":"S = 1.1","v":0.315,"lo":0.3,"hi":0.33},{"t":11.37,"s":"S = 1.1","v":0.32,"lo":0.3,"hi":0.34},{"t":11.77,"s":"S = 1.1","v":0.34,"lo":0.32,"hi":0.36},{"t":12.16,"s":"S = 1.1","v":0.36,"lo":0.34,"hi":0.38},{"t":12.54,"s":"S = 1.1","v":0.37,"lo":0.35,"hi":0.39},{"t":12.9,"s":"S = 1.1","v":0.41,"lo":0.39,"hi":0.43},{"t":13.23,"s":"S = 1.1","v":0.45,"lo":0.43,"hi":0.47},{"t":13.56,"s":"S = 1.1","v":0.43,"lo":0.4,"hi":0.46},{"t":13.86,"s":"S = 1.1","v":0.47,"lo":0.43,"hi":0.51},{"t":14.16,"s":"S = 1.1","v":0.5,"lo":0.41,"hi":0.58},{"t":14.47,"s":"S = 1.1","v":0.515,"lo":0.45,"hi":0.59},{"t":14.78,"s":"S = 1.1","v":0.51,"lo":0.48,"hi":0.55},{"t":15.07,"s":"S = 1.1","v":0.6,"lo":0.55,"hi":0.66},{"t":16.16,"s":"S = 1.1","v":0.585,"lo":0,"hi":3},{"t":16.38,"s":"S = 1.1","v":0.635,"lo":0.54,"hi":0.71},
{"t":5.95,"s":"S = 1.1 (linear)","v":0.54},{"t":6.14,"s":"S = 1.1 (linear)","v":0.36},{"t":6.34,"s":"S = 1.1 (linear)","v":0.33},{"t":6.53,"s":"S = 1.1 (linear)","v":0.42},{"t":6.73,"s":"S = 1.1 (linear)","v":0.38},{"t":6.94,"s":"S = 1.1 (linear)","v":0.33},{"t":7.15,"s":"S = 1.1 (linear)","v":0.29},{"t":7.37,"s":"S = 1.1 (linear)","v":0.31},{"t":7.6,"s":"S = 1.1 (linear)","v":0.29},{"t":7.83,"s":"S = 1.1 (linear)","v":0.28},{"t":8.09,"s":"S = 1.1 (linear)","v":0.27},{"t":8.35,"s":"S = 1.1 (linear)","v":0.28},{"t":8.62,"s":"S = 1.1 (linear)","v":0.27},{"t":8.9,"s":"S = 1.1 (linear)","v":0.26},{"t":9.23,"s":"S = 1.1 (linear)","v":0.25},{"t":9.55,"s":"S = 1.1 (linear)","v":0.25},{"t":9.89,"s":"S = 1.1 (linear)","v":0.24},{"t":10.22,"s":"S = 1.1 (linear)","v":0.25},{"t":10.59,"s":"S = 1.1 (linear)","v":0.26},{"t":10.99,"s":"S = 1.1 (linear)","v":0.25},{"t":11.37,"s":"S = 1.1 (linear)","v":0.37},{"t":11.77,"s":"S = 1.1 (linear)","v":0.28},{"t":12.16,"s":"S = 1.1 (linear)","v":0.38},{"t":12.54,"s":"S = 1.1 (linear)","v":0.3},{"t":12.9,"s":"S = 1.1 (linear)","v":0.32},{"t":13.23,"s":"S = 1.1 (linear)","v":0.34},{"t":13.56,"s":"S = 1.1 (linear)","v":0.32},{"t":13.86,"s":"S = 1.1 (linear)","v":0.34},{"t":14.16,"s":"S = 1.1 (linear)","v":0.36},{"t":14.47,"s":"S = 1.1 (linear)","v":0.36},{"t":14.78,"s":"S = 1.1 (linear)","v":0.38},{"t":15.07,"s":"S = 1.1 (linear)","v":0.42},{"t":16.16,"s":"S = 1.1 (linear)","v":0.41},{"t":16.38,"s":"S = 1.1 (linear)","v":0.42}
],
"e19": [
{"t":6.09,"s":"S = 0.8","v":1.12},{"t":6.3,"s":"S = 0.8","v":0.75},{"t":6.5,"s":"S = 0.8","v":0.9},{"t":6.69,"s":"S = 0.8","v":0.75},{"t":6.9,"s":"S = 0.8","v":1.07},{"t":7.12,"s":"S = 0.8","v":0.79},{"t":7.33,"s":"S = 0.8","v":0.87},{"t":7.55,"s":"S = 0.8","v":0.96},{"t":7.79,"s":"S = 0.8","v":0.92},{"t":8.03,"s":"S = 0.8","v":1.11},{"t":8.27,"s":"S = 0.8","v":1.3},{"t":8.51,"s":"S = 0.8","v":1.39},{"t":8.76,"s":"S = 0.8","v":1.44},{"t":9.01,"s":"S = 0.8","v":1.5},{"t":9.27,"s":"S = 0.8","v":1.6},{"t":9.54,"s":"S = 0.8","v":1.37},{"t":9.8,"s":"S = 0.8","v":1.4},{"t":10.06,"s":"S = 0.8","v":1.32},{"t":10.35,"s":"S = 0.8","v":1.15},{"t":10.64,"s":"S = 0.8","v":1.06},{"t":10.94,"s":"S = 0.8","v":1.11},{"t":11.25,"s":"S = 0.8","v":0.855},{"t":11.57,"s":"S = 0.8","v":0.73},{"t":11.89,"s":"S = 0.8","v":0.71},{"t":12.21,"s":"S = 0.8","v":0.59},{"t":12.54,"s":"S = 0.8","v":0.58},{"t":12.87,"s":"S = 0.8","v":0.55},{"t":13.2,"s":"S = 0.8","v":0.52},{"t":13.52,"s":"S = 0.8","v":0.535},{"t":13.83,"s":"S = 0.8","v":0.51},{"t":14.13,"s":"S = 0.8","v":0.51},{"t":14.44,"s":"S = 0.8","v":0.535},{"t":14.76,"s":"S = 0.8","v":0.52},{"t":15.07,"s":"S = 0.8","v":0.5},{"t":15.39,"s":"S = 0.8","v":0.56},{"t":15.71,"s":"S = 0.8","v":0.63},{"t":16.0,"s":"S = 0.8","v":0.64},{"t":16.26,"s":"S = 0.8","v":0.57},
{"t":6.09,"s":"S = 1.0","v":0.77},{"t":6.3,"s":"S = 1.0","v":0.76},{"t":6.5,"s":"S = 1.0","v":0.98},{"t":6.69,"s":"S = 1.0","v":0.76},{"t":6.9,"s":"S = 1.0","v":0.97},{"t":7.12,"s":"S = 1.0","v":0.77},{"t":7.33,"s":"S = 1.0","v":0.87},{"t":7.55,"s":"S = 1.0","v":0.98},{"t":7.79,"s":"S = 1.0","v":0.87},{"t":8.03,"s":"S = 1.0","v":1.16},{"t":8.27,"s":"S = 1.0","v":1.265},{"t":8.51,"s":"S = 1.0","v":1.36},{"t":8.76,"s":"S = 1.0","v":1.36},{"t":9.01,"s":"S = 1.0","v":1.39},{"t":9.27,"s":"S = 1.0","v":1.425},{"t":9.54,"s":"S = 1.0","v":1.21},{"t":9.8,"s":"S = 1.0","v":1.33},{"t":10.06,"s":"S = 1.0","v":1.27},{"t":10.35,"s":"S = 1.0","v":1.075},{"t":10.64,"s":"S = 1.0","v":0.99},{"t":10.94,"s":"S = 1.0","v":1.13},{"t":11.25,"s":"S = 1.0","v":0.85},{"t":11.57,"s":"S = 1.0","v":0.71},{"t":11.89,"s":"S = 1.0","v":0.68},{"t":12.21,"s":"S = 1.0","v":0.56},{"t":12.54,"s":"S = 1.0","v":0.56},{"t":12.87,"s":"S = 1.0","v":0.54},{"t":13.2,"s":"S = 1.0","v":0.505},{"t":13.52,"s":"S = 1.0","v":0.535},{"t":13.83,"s":"S = 1.0","v":0.505},{"t":14.13,"s":"S = 1.0","v":0.5},{"t":14.44,"s":"S = 1.0","v":0.54},{"t":14.76,"s":"S = 1.0","v":0.52},{"t":15.07,"s":"S = 1.0","v":0.505},{"t":15.39,"s":"S = 1.0","v":0.555},{"t":15.71,"s":"S = 1.0","v":0.63},{"t":16.0,"s":"S = 1.0","v":0.69},
{"t":6.09,"s":"S = 1.1","v":1.675,"lo":0,"hi":2.6},{"t":6.3,"s":"S = 1.1","v":1.35,"lo":0.85,"hi":1.9},{"t":6.5,"s":"S = 1.1","v":1.51,"lo":0,"hi":2.6},{"t":6.69,"s":"S = 1.1","v":1.21,"lo":0.25,"hi":2.16},{"t":6.9,"s":"S = 1.1","v":1.35,"lo":0,"hi":2.6},{"t":7.12,"s":"S = 1.1","v":1.15,"lo":0.57,"hi":1.72},{"t":7.33,"s":"S = 1.1","v":1.27,"lo":0.87,"hi":1.63},{"t":7.55,"s":"S = 1.1","v":1.37,"lo":0.7,"hi":2.03},{"t":7.79,"s":"S = 1.1","v":1.36,"lo":0.17,"hi":2.6},{"t":8.03,"s":"S = 1.1","v":1.61,"lo":0.97,"hi":2.25},{"t":8.27,"s":"S = 1.1","v":1.77,"lo":0.88,"hi":2.6},{"t":8.51,"s":"S = 1.1","v":1.81,"lo":1.18,"hi":2.24},{"t":8.76,"s":"S = 1.1","v":1.835,"lo":1.18,"hi":2.49},{"t":9.01,"s":"S = 1.1","v":1.9,"lo":1.75,"hi":2.05},{"t":9.27,"s":"S = 1.1","v":2.01,"lo":1.77,"hi":2.24},{"t":9.54,"s":"S = 1.1","v":1.675,"lo":1.55,"hi":1.79},{"t":9.8,"s":"S = 1.1","v":1.8,"lo":0.66,"hi":2.6},{"t":10.06,"s":"S = 1.1","v":1.72,"lo":1.1,"hi":2.34},{"t":10.35,"s":"S = 1.1","v":1.52,"lo":1.25,"hi":1.79},{"t":10.64,"s":"S = 1.1","v":1.425,"lo":0.95,"hi":1.9},{"t":10.94,"s":"S = 1.1","v":1.54,"lo":1.3,"hi":1.77},{"t":11.25,"s":"S = 1.1","v":1.026,"lo":0.87,"hi":1.19},{"t":11.57,"s":"S = 1.1","v":0.893,"lo":0.76,"hi":1.03},{"t":11.89,"s":"S = 1.1","v":0.779,"lo":0.58,"hi":0.97},{"t":12.21,"s":"S = 1.1","v":0.676,"lo":0.62,"hi":0.74},{"t":12.54,"s":"S = 1.1","v":0.676,"lo":0.63,"hi":0.73},{"t":12.87,"s":"S = 1.1","v":0.646,"lo":0.62,"hi":0.68},{"t":13.2,"s":"S = 1.1","v":0.608,"lo":0.58,"hi":0.64},{"t":13.52,"s":"S = 1.1","v":0.638,"lo":0.61,"hi":0.66},{"t":13.83,"s":"S = 1.1","v":0.596,"lo":0.56,"hi":0.63},{"t":14.13,"s":"S = 1.1","v":0.608,"lo":0.54,"hi":0.68},{"t":14.44,"s":"S = 1.1","v":0.638,"lo":0.61,"hi":0.66},{"t":14.76,"s":"S = 1.1","v":0.638,"lo":0.6,"hi":0.69},{"t":15.07,"s":"S = 1.1","v":0.619,"lo":0.32,"hi":0.9},{"t":15.39,"s":"S = 1.1","v":0.741,"lo":0.54,"hi":0.95},{"t":15.71,"s":"S = 1.1","v":0.798,"lo":0.63,"hi":0.96},{"t":16.0,"s":"S = 1.1","v":0.824,"lo":0.55,"hi":1.09},
{"t":6.09,"s":"S = 1.1 (linear)","v":0.71},{"t":6.3,"s":"S = 1.1 (linear)","v":0.76},{"t":6.5,"s":"S = 1.1 (linear)","v":1.02},{"t":6.69,"s":"S = 1.1 (linear)","v":0.79},{"t":6.9,"s":"S = 1.1 (linear)","v":1.01},{"t":7.12,"s":"S = 1.1 (linear)","v":0.79},{"t":7.33,"s":"S = 1.1 (linear)","v":0.855},{"t":7.55,"s":"S = 1.1 (linear)","v":0.94},{"t":7.79,"s":"S = 1.1 (linear)","v":0.89},{"t":8.03,"s":"S = 1.1 (linear)","v":1.04},{"t":8.27,"s":"S = 1.1 (linear)","v":1.14},{"t":8.51,"s":"S = 1.1 (linear)","v":1.27},{"t":8.76,"s":"S = 1.1 (linear)","v":1.31},{"t":9.01,"s":"S = 1.1 (linear)","v":1.35},{"t":9.27,"s":"S = 1.1 (linear)","v":1.36},{"t":9.54,"s":"S = 1.1 (linear)","v":1.2},{"t":9.8,"s":"S = 1.1 (linear)","v":1.33},{"t":10.06,"s":"S = 1.1 (linear)","v":1.26},{"t":10.35,"s":"S = 1.1 (linear)","v":1.07},{"t":10.64,"s":"S = 1.1 (linear)","v":1.0},{"t":10.94,"s":"S = 1.1 (linear)","v":1.075},{"t":11.25,"s":"S = 1.1 (linear)","v":0.81},{"t":11.57,"s":"S = 1.1 (linear)","v":0.71},{"t":11.89,"s":"S = 1.1 (linear)","v":0.66},{"t":12.21,"s":"S = 1.1 (linear)","v":0.555},{"t":12.54,"s":"S = 1.1 (linear)","v":0.555},{"t":12.87,"s":"S = 1.1 (linear)","v":0.53},{"t":13.2,"s":"S = 1.1 (linear)","v":0.49},{"t":13.52,"s":"S = 1.1 (linear)","v":0.515},{"t":13.83,"s":"S = 1.1 (linear)","v":0.49},{"t":14.13,"s":"S = 1.1 (linear)","v":0.49},{"t":14.44,"s":"S = 1.1 (linear)","v":0.525},{"t":14.76,"s":"S = 1.1 (linear)","v":0.51},{"t":15.07,"s":"S = 1.1 (linear)","v":0.49},{"t":15.39,"s":"S = 1.1 (linear)","v":0.545},{"t":15.71,"s":"S = 1.1 (linear)","v":0.62},{"t":16.0,"s":"S = 1.1 (linear)","v":0.66},{"t":16.26,"s":"S = 1.1 (linear)","v":0.695}
]
},
"concat": [
 {"width": 371, "height": 213, "data": {"name": "a15"}, "view": {"stroke": "#8c8c8c"},
  "title": {"text": "15 September 2003", "frame": "group", "anchor": "middle", "dx": -14, "offset": -4, "baseline": "alphabetic"},
  "encoding": {"x": {"field": "t", "type": "quantitative", "scale": {"domain": [5, 16.8], "nice": false, "zero": false}, "axis": {"title": "Time", "values": [5,6,7,8,9,10,11,12,13,14,15,16], "labelExpr": "datum.value % 2 == 1 ? datum.value + ':00' : ''", "grid": false, "labelFlush": false, "labelPadding": 3, "titlePadding": 3}}},
  "layer": [
   {"mark": {"type": "line", "clip": true, "strokeWidth": 1}, "encoding": {"y": {"field": "v", "type": "quantitative", "title": "Aerosol OD", "scale": {"domain": [0, 2], "nice": false}, "axis": {"values": [0,0.25,0.5,0.75,1,1.25,1.5,1.75,2], "labelExpr": "datum.value % 0.5 == 0 ? '' + datum.value : ''", "grid": true, "titleX": -32, "titleBaseline": "middle"}}, "color": {"field": "s", "type": "nominal", "scale": {"domain": ["S = 0.8","S = 1.0","S = 1.1","S = 1.1 (linear)","AERONET"], "range": ["#00FF00","#0000FF","#FF0000","#FF00FF","#000080"]}, "legend": null}}},
   {"transform": [{"filter": "datum.s != 'AERONET'"}], "mark": {"type": "point", "filled": true, "opacity": 1, "size": 18, "clip": true}, "encoding": {"y": {"field": "v", "type": "quantitative", "title": "Aerosol OD", "axis": {"values": [0,0.25,0.5,0.75,1,1.25,1.5,1.75,2], "labelExpr": "datum.value % 0.5 == 0 ? '' + datum.value : ''", "grid": true, "titleX": -32, "titleBaseline": "middle"}}, "color": {"field": "s", "type": "nominal", "legend": null}, "shape": {"field": "s", "type": "nominal", "scale": {"domain": ["S = 0.8","S = 1.0","S = 1.1","S = 1.1 (linear)"], "range": ["triangle-up","square","circle","diamond"]}, "legend": null}}},
   {"transform": [{"filter": "isValid(datum.lo)"}], "mark": {"type": "rule", "clip": true, "color": "#FF0000", "opacity": 0.6}, "encoding": {"y": {"field": "lo", "type": "quantitative", "title": "Aerosol OD", "axis": {"values": [0,0.25,0.5,0.75,1,1.25,1.5,1.75,2], "labelExpr": "datum.value % 0.5 == 0 ? '' + datum.value : ''", "grid": true, "titleX": -32, "titleBaseline": "middle"}}, "y2": {"field": "hi"}}},
   {"transform": [{"filter": "isValid(datum.lo)"}], "mark": {"type": "tick", "clip": true, "orient": "horizontal", "size": 6, "thickness": 1, "color": "#FF0000", "opacity": 0.6}, "encoding": {"y": {"field": "lo", "type": "quantitative", "title": "Aerosol OD", "axis": {"values": [0,0.25,0.5,0.75,1,1.25,1.5,1.75,2], "labelExpr": "datum.value % 0.5 == 0 ? '' + datum.value : ''", "grid": true, "titleX": -32, "titleBaseline": "middle"}}}},
   {"transform": [{"filter": "isValid(datum.lo)"}], "mark": {"type": "tick", "clip": true, "orient": "horizontal", "size": 6, "thickness": 1, "color": "#FF0000", "opacity": 0.6}, "encoding": {"y": {"field": "hi", "type": "quantitative", "title": "Aerosol OD", "axis": {"values": [0,0.25,0.5,0.75,1,1.25,1.5,1.75,2], "labelExpr": "datum.value % 0.5 == 0 ? '' + datum.value : ''", "grid": true, "titleX": -32, "titleBaseline": "middle"}}}},
   {"transform": [{"filter": "false"}], "mark": {"type": "point", "filled": true, "opacity": 1},
    "encoding": {"y": {"field": "v", "type": "quantitative", "title": "Aerosol OD", "axis": {"values": [0,0.25,0.5,0.75,1,1.25,1.5,1.75,2], "labelExpr": "datum.value % 0.5 == 0 ? '' + datum.value : ''", "grid": true, "titleX": -32, "titleBaseline": "middle"}},
     "fill": {"field": "s", "type": "nominal", "scale": {"domain": ["S = 0.8","S = 1.0","S = 1.1","S = 1.1 (linear)","AERONET"], "range": ["#00FF00","#0000FF","#FF0000","#FF00FF","#000080"]}, "legend": {"title": null, "orient": "none", "legendX": 87, "legendY": -4, "fillColor": "white", "padding": 3, "rowPadding": 2, "labelFontSize": 12, "labelOffset": 8, "symbolSize": 100, "symbolStrokeWidth": 1, "symbolOpacity": 1, "labelColor": "#000", "labelLimit": 300}},
     "stroke": {"field": "s", "type": "nominal", "scale": {"domain": ["S = 0.8","S = 1.0","S = 1.1","S = 1.1 (linear)","AERONET"], "range": ["#00FF00","#0000FF","#FF0000","#FF00FF","#000080"]}, "legend": {"title": null, "orient": "none", "legendX": 87, "legendY": -4, "fillColor": "white", "padding": 3, "rowPadding": 2, "labelFontSize": 12, "labelOffset": 8, "symbolSize": 100, "symbolStrokeWidth": 1, "symbolOpacity": 1, "labelColor": "#000", "labelLimit": 300}},
     "shape": {"field": "s", "type": "nominal", "scale": {"domain": ["S = 0.8","S = 1.0","S = 1.1","S = 1.1 (linear)","AERONET"], "range": ["M-1,0H2M0.5,-0.55L1.1,0.45L-0.1,0.45Z","M-1,0H2M0,-0.5H1V0.5H0Z","M-1,0H2M0.9,0A0.4,0.4,0,1,1,0.1,0A0.4,0.4,0,1,1,0.9,0Z","M-1,0H2M0.5,-0.55L1.05,0L0.5,0.55L-0.05,0Z","M-1,0H2"]}, "legend": {"title": null, "orient": "none", "legendX": 87, "legendY": -4, "fillColor": "white", "padding": 3, "rowPadding": 2, "labelFontSize": 12, "labelOffset": 8, "symbolSize": 100, "symbolStrokeWidth": 1, "symbolOpacity": 1, "labelColor": "#000", "labelLimit": 300}}}}
  ],
  "resolve": {"scale": {"shape": "independent", "fill": "independent", "stroke": "independent"}}
 },
 {"width": 368, "height": 221, "data": {"name": "a19"},
  "title": {"text": "19 September 2003", "frame": "group", "anchor": "middle", "dx": -13, "offset": -4, "baseline": "alphabetic"},
  "encoding": {"x": {"field": "t", "type": "quantitative", "scale": {"domain": [5, 16.7], "nice": false, "zero": false}, "axis": {"title": "Time", "values": [5,6,7,8,9,10,11,12,13,14,15,16], "labelExpr": "datum.value % 2 == 1 ? datum.value + ':00' : ''", "grid": false, "labelFlush": false, "labelPadding": 3, "titlePadding": 3}}},
  "layer": [
   {"mark": {"type": "line", "clip": true, "strokeWidth": 1}, "encoding": {"y": {"field": "v", "type": "quantitative", "title": "Aerosol OD", "scale": {"domain": [0, 2], "nice": false}, "axis": {"values": [0,0.25,0.5,0.75,1,1.25,1.5,1.75,2], "labelExpr": "datum.value % 0.5 == 0 ? '' + datum.value : ''", "grid": true, "titleX": -31, "titleBaseline": "middle"}}, "color": {"field": "s", "type": "nominal", "scale": {"domain": ["S = 0.8","S = 1.0","S = 1.1","S = 1.1 (linear)","AERONET"], "range": ["#00FF00","#0000FF","#FF0000","#FF00FF","#000080"]}, "legend": null}}},
   {"transform": [{"filter": "datum.s != 'AERONET'"}], "mark": {"type": "point", "filled": true, "opacity": 1, "size": 18, "clip": true}, "encoding": {"y": {"field": "v", "type": "quantitative", "title": "Aerosol OD", "axis": {"values": [0,0.25,0.5,0.75,1,1.25,1.5,1.75,2], "labelExpr": "datum.value % 0.5 == 0 ? '' + datum.value : ''", "grid": true, "titleX": -31, "titleBaseline": "middle"}}, "color": {"field": "s", "type": "nominal", "legend": null}, "shape": {"field": "s", "type": "nominal", "scale": {"domain": ["S = 0.8","S = 1.0","S = 1.1","S = 1.1 (linear)"], "range": ["triangle-up","square","square","diamond"]}, "legend": null}}},
   {"transform": [{"filter": "isValid(datum.lo)"}], "mark": {"type": "rule", "clip": true, "color": "#FF0000", "opacity": 0.6}, "encoding": {"y": {"field": "lo", "type": "quantitative", "title": "Aerosol OD", "axis": {"values": [0,0.25,0.5,0.75,1,1.25,1.5,1.75,2], "labelExpr": "datum.value % 0.5 == 0 ? '' + datum.value : ''", "grid": true, "titleX": -31, "titleBaseline": "middle"}}, "y2": {"field": "hi"}}},
   {"transform": [{"filter": "isValid(datum.lo)"}], "mark": {"type": "tick", "clip": true, "orient": "horizontal", "size": 6, "thickness": 1, "color": "#FF0000", "opacity": 0.6}, "encoding": {"y": {"field": "lo", "type": "quantitative", "title": "Aerosol OD", "axis": {"values": [0,0.25,0.5,0.75,1,1.25,1.5,1.75,2], "labelExpr": "datum.value % 0.5 == 0 ? '' + datum.value : ''", "grid": true, "titleX": -31, "titleBaseline": "middle"}}}},
   {"transform": [{"filter": "isValid(datum.lo)"}], "mark": {"type": "tick", "clip": true, "orient": "horizontal", "size": 6, "thickness": 1, "color": "#FF0000", "opacity": 0.6}, "encoding": {"y": {"field": "hi", "type": "quantitative", "title": "Aerosol OD", "axis": {"values": [0,0.25,0.5,0.75,1,1.25,1.5,1.75,2], "labelExpr": "datum.value % 0.5 == 0 ? '' + datum.value : ''", "grid": true, "titleX": -31, "titleBaseline": "middle"}}}},
   {"transform": [{"filter": "false"}], "mark": {"type": "point", "filled": true, "opacity": 1},
    "encoding": {"y": {"field": "v", "type": "quantitative", "title": "Aerosol OD", "axis": {"values": [0,0.25,0.5,0.75,1,1.25,1.5,1.75,2], "labelExpr": "datum.value % 0.5 == 0 ? '' + datum.value : ''", "grid": true, "titleX": -31, "titleBaseline": "middle"}},
     "fill": {"field": "s", "type": "nominal", "scale": {"domain": ["S = 0.8","S = 1.0","S = 1.1","S = 1.1 (linear)","AERONET"], "range": ["#00FF00","#0000FF","#FF0000","#FF00FF","#000080"]}, "legend": {"title": null, "orient": "none", "legendX": 6, "legendY": 3, "fillColor": "white", "padding": 3, "rowPadding": 3, "labelFontSize": 12, "labelOffset": 8, "symbolSize": 100, "symbolStrokeWidth": 1, "symbolOpacity": 1, "labelColor": "#000", "labelLimit": 300}},
     "stroke": {"field": "s", "type": "nominal", "scale": {"domain": ["S = 0.8","S = 1.0","S = 1.1","S = 1.1 (linear)","AERONET"], "range": ["#00FF00","#0000FF","#FF0000","#FF00FF","#000080"]}, "legend": {"title": null, "orient": "none", "legendX": 6, "legendY": 3, "fillColor": "white", "padding": 3, "rowPadding": 3, "labelFontSize": 12, "labelOffset": 8, "symbolSize": 100, "symbolStrokeWidth": 1, "symbolOpacity": 1, "labelColor": "#000", "labelLimit": 300}},
     "shape": {"field": "s", "type": "nominal", "scale": {"domain": ["S = 0.8","S = 1.0","S = 1.1","S = 1.1 (linear)","AERONET"], "range": ["M-1,0H2M0.5,-0.55L1.1,0.45L-0.1,0.45Z","M-1,0H2M0,-0.5H1V0.5H0Z","M-1,0H2M0.1,-0.4H0.9V0.4H0.1Z","M-1,0H2M0.5,-0.55L1.05,0L0.5,0.55L-0.05,0Z","M-1,0H2"]}, "legend": {"title": null, "orient": "none", "legendX": 6, "legendY": 3, "fillColor": "white", "padding": 3, "rowPadding": 3, "labelFontSize": 12, "labelOffset": 8, "symbolSize": 100, "symbolStrokeWidth": 1, "symbolOpacity": 1, "labelColor": "#000", "labelLimit": 300}}}}
  ],
  "resolve": {"scale": {"shape": "independent", "fill": "independent", "stroke": "independent"}}
 },
 {"width": 371, "height": 218, "data": {"name": "h15"}, "view": {"stroke": "#8c8c8c"},
  "encoding": {"x": {"field": "t", "type": "quantitative", "scale": {"domain": [5, 16.8], "nice": false, "zero": false}, "axis": {"title": "Time", "values": [5,6,7,8,9,10,11,12,13,14,15,16], "labelExpr": "datum.value % 2 == 1 ? datum.value + ':00' : ''", "grid": false, "labelFlush": false, "labelPadding": 3, "titlePadding": 3}}},
  "layer": [
   {"mark": {"type": "line", "clip": true}, "encoding": {"y": {"field": "v", "type": "quantitative", "title": "Layer height [m]", "scale": {"domain": [0, 5000], "nice": false}, "axis": {"values": [0,1000,2000,3000,4000,5000], "format": "d", "grid": true, "titleX": -47, "titleBaseline": "middle"}}, "color": {"field": "s", "type": "nominal", "scale": {"domain": ["S = 0.8","S = 1.0","S = 1.1","S = 1.1 (linear)"], "range": ["#00FF00","#0000FF","#FF0000","#FF00FF"]}, "legend": null}, "strokeWidth": {"condition": {"test": "datum.s == 'S = 1.0'", "value": 2.2}, "value": 1}}},
   {"transform": [{"filter": "datum.s != 'S = 1.0'"}], "mark": {"type": "point", "filled": true, "opacity": 1, "size": 14, "clip": true}, "encoding": {"y": {"field": "v", "type": "quantitative", "title": "Layer height [m]", "axis": {"values": [0,1000,2000,3000,4000,5000], "format": "d", "grid": true, "titleX": -47, "titleBaseline": "middle"}}, "color": {"field": "s", "type": "nominal", "legend": null}, "shape": {"field": "s", "type": "nominal", "scale": {"domain": ["S = 0.8","S = 1.0","S = 1.1","S = 1.1 (linear)"], "range": ["triangle-up","square","cross","square"]}, "legend": null}}},
   {"transform": [{"filter": "isValid(datum.lo)"}], "mark": {"type": "rule", "clip": true, "color": "#FF0000", "opacity": 0.6}, "encoding": {"y": {"field": "lo", "type": "quantitative", "title": "Layer height [m]", "axis": {"values": [0,1000,2000,3000,4000,5000], "format": "d", "grid": true, "titleX": -47, "titleBaseline": "middle"}}, "y2": {"field": "hi"}}},
   {"transform": [{"filter": "isValid(datum.lo)"}], "mark": {"type": "tick", "clip": true, "orient": "horizontal", "size": 6, "thickness": 1, "color": "#FF0000", "opacity": 0.6}, "encoding": {"y": {"field": "lo", "type": "quantitative", "title": "Layer height [m]", "axis": {"values": [0,1000,2000,3000,4000,5000], "format": "d", "grid": true, "titleX": -47, "titleBaseline": "middle"}}}},
   {"transform": [{"filter": "isValid(datum.lo)"}], "mark": {"type": "tick", "clip": true, "orient": "horizontal", "size": 6, "thickness": 1, "color": "#FF0000", "opacity": 0.6}, "encoding": {"y": {"field": "hi", "type": "quantitative", "title": "Layer height [m]", "axis": {"values": [0,1000,2000,3000,4000,5000], "format": "d", "grid": true, "titleX": -47, "titleBaseline": "middle"}}}},
   {"transform": [{"filter": "false"}], "mark": {"type": "point", "filled": true, "opacity": 1},
    "encoding": {"y": {"field": "v", "type": "quantitative", "title": "Layer height [m]", "axis": {"values": [0,1000,2000,3000,4000,5000], "format": "d", "grid": true, "titleX": -47, "titleBaseline": "middle"}},
     "fill": {"field": "s", "type": "nominal", "scale": {"domain": ["S = 0.8","S = 1.0","S = 1.1","S = 1.1 (linear)"], "range": ["#00FF00","#0000FF","#FF0000","#FF00FF"]}, "legend": {"title": null, "orient": "none", "legendX": 105, "legendY": 2, "fillColor": "white", "padding": 3, "rowPadding": 3, "labelFontSize": 12, "labelOffset": 8, "symbolSize": 100, "symbolStrokeWidth": 1, "symbolOpacity": 1, "labelColor": "#000", "labelLimit": 300}},
     "stroke": {"field": "s", "type": "nominal", "scale": {"domain": ["S = 0.8","S = 1.0","S = 1.1","S = 1.1 (linear)"], "range": ["#00FF00","#0000FF","#FF0000","#FF00FF"]}, "legend": {"title": null, "orient": "none", "legendX": 105, "legendY": 2, "fillColor": "white", "padding": 3, "rowPadding": 3, "labelFontSize": 12, "labelOffset": 8, "symbolSize": 100, "symbolStrokeWidth": 1, "symbolOpacity": 1, "labelColor": "#000", "labelLimit": 300}},
     "shape": {"field": "s", "type": "nominal", "scale": {"domain": ["S = 0.8","S = 1.0","S = 1.1","S = 1.1 (linear)"], "range": ["M-1,0H2M0.5,-0.4L0.95,0.35L0.05,0.35Z","M-1,-0.22H2V0.22H-1Z","M-1,0H2M0.5,-0.5V0.5","M-1,0H2M0.1,-0.4H0.9V0.4H0.1Z"]}, "legend": {"title": null, "orient": "none", "legendX": 105, "legendY": 2, "fillColor": "white", "padding": 3, "rowPadding": 3, "labelFontSize": 12, "labelOffset": 8, "symbolSize": 100, "symbolStrokeWidth": 1, "symbolOpacity": 1, "labelColor": "#000", "labelLimit": 300}}}}
  ],
  "resolve": {"scale": {"shape": "independent", "fill": "independent", "stroke": "independent"}}
 },
 {"width": 368, "height": 219, "data": {"name": "h19"},
  "encoding": {"x": {"field": "t", "type": "quantitative", "scale": {"domain": [5, 16.7], "nice": false, "zero": false}, "axis": {"title": "Time", "values": [5,6,7,8,9,10,11,12,13,14,15,16], "labelExpr": "datum.value % 2 == 1 ? datum.value + ':00' : ''", "grid": false, "labelFlush": false, "labelPadding": 3, "titlePadding": 3}}},
  "layer": [
   {"mark": {"type": "line", "clip": true}, "encoding": {"y": {"field": "v", "type": "quantitative", "title": "Layer height [m]", "scale": {"domain": [0, 5000], "nice": false}, "axis": {"values": [0,1000,2000,3000,4000,5000], "format": "d", "grid": true, "titleX": -46, "titleBaseline": "middle"}}, "color": {"field": "s", "type": "nominal", "scale": {"domain": ["S = 0.8","S = 1.0","S = 1.1","S = 1.1 (linear)"], "range": ["#00FF00","#0000FF","#FF0000","#FF00FF"]}, "legend": null}, "strokeWidth": {"condition": {"test": "datum.s == 'S = 1.0'", "value": 2.2}, "value": 1}}},
   {"transform": [{"filter": "datum.s != 'S = 1.0'"}], "mark": {"type": "point", "filled": true, "opacity": 1, "size": 14, "clip": true}, "encoding": {"y": {"field": "v", "type": "quantitative", "title": "Layer height [m]", "axis": {"values": [0,1000,2000,3000,4000,5000], "format": "d", "grid": true, "titleX": -46, "titleBaseline": "middle"}}, "color": {"field": "s", "type": "nominal", "legend": null}, "shape": {"field": "s", "type": "nominal", "scale": {"domain": ["S = 0.8","S = 1.0","S = 1.1","S = 1.1 (linear)"], "range": ["triangle-up","square","cross","square"]}, "legend": null}}},
   {"transform": [{"filter": "isValid(datum.lo)"}], "mark": {"type": "rule", "clip": true, "color": "#FF0000", "opacity": 0.6}, "encoding": {"y": {"field": "lo", "type": "quantitative", "title": "Layer height [m]", "axis": {"values": [0,1000,2000,3000,4000,5000], "format": "d", "grid": true, "titleX": -46, "titleBaseline": "middle"}}, "y2": {"field": "hi"}}},
   {"transform": [{"filter": "isValid(datum.lo)"}], "mark": {"type": "tick", "clip": true, "orient": "horizontal", "size": 6, "thickness": 1, "color": "#FF0000", "opacity": 0.6}, "encoding": {"y": {"field": "lo", "type": "quantitative", "title": "Layer height [m]", "axis": {"values": [0,1000,2000,3000,4000,5000], "format": "d", "grid": true, "titleX": -46, "titleBaseline": "middle"}}}},
   {"transform": [{"filter": "isValid(datum.lo)"}], "mark": {"type": "tick", "clip": true, "orient": "horizontal", "size": 6, "thickness": 1, "color": "#FF0000", "opacity": 0.6}, "encoding": {"y": {"field": "hi", "type": "quantitative", "title": "Layer height [m]", "axis": {"values": [0,1000,2000,3000,4000,5000], "format": "d", "grid": true, "titleX": -46, "titleBaseline": "middle"}}}},
   {"transform": [{"filter": "false"}], "mark": {"type": "point", "filled": true, "opacity": 1},
    "encoding": {"y": {"field": "v", "type": "quantitative", "title": "Layer height [m]", "axis": {"values": [0,1000,2000,3000,4000,5000], "format": "d", "grid": true, "titleX": -46, "titleBaseline": "middle"}},
     "fill": {"field": "s", "type": "nominal", "scale": {"domain": ["S = 0.8","S = 1.0","S = 1.1","S = 1.1 (linear)"], "range": ["#00FF00","#0000FF","#FF0000","#FF00FF"]}, "legend": {"title": null, "orient": "none", "legendX": 104, "legendY": 2, "fillColor": "white", "padding": 3, "rowPadding": 3, "labelFontSize": 12, "labelOffset": 8, "symbolSize": 100, "symbolStrokeWidth": 1, "symbolOpacity": 1, "labelColor": "#000", "labelLimit": 300}},
     "stroke": {"field": "s", "type": "nominal", "scale": {"domain": ["S = 0.8","S = 1.0","S = 1.1","S = 1.1 (linear)"], "range": ["#00FF00","#0000FF","#FF0000","#FF00FF"]}, "legend": {"title": null, "orient": "none", "legendX": 104, "legendY": 2, "fillColor": "white", "padding": 3, "rowPadding": 3, "labelFontSize": 12, "labelOffset": 8, "symbolSize": 100, "symbolStrokeWidth": 1, "symbolOpacity": 1, "labelColor": "#000", "labelLimit": 300}},
     "shape": {"field": "s", "type": "nominal", "scale": {"domain": ["S = 0.8","S = 1.0","S = 1.1","S = 1.1 (linear)"], "range": ["M-1,0H2M0.5,-0.4L0.95,0.35L0.05,0.35Z","M-1,-0.22H2V0.22H-1Z","M-1,0H2M0.5,-0.5V0.5","M-1,0H2M0.1,-0.4H0.9V0.4H0.1Z"]}, "legend": {"title": null, "orient": "none", "legendX": 104, "legendY": 2, "fillColor": "white", "padding": 3, "rowPadding": 3, "labelFontSize": 12, "labelOffset": 8, "symbolSize": 100, "symbolStrokeWidth": 1, "symbolOpacity": 1, "labelColor": "#000", "labelLimit": 300}}}}
  ],
  "resolve": {"scale": {"shape": "independent", "fill": "independent", "stroke": "independent"}}
 },
 {"width": 371, "height": 210, "data": {"name": "e15"}, "view": {"stroke": "#8c8c8c"},
  "encoding": {"x": {"field": "t", "type": "quantitative", "scale": {"domain": [5, 16.8], "nice": false, "zero": false}, "axis": {"title": "Time", "values": [5,6,7,8,9,10,11,12,13,14,15,16], "labelExpr": "datum.value % 2 == 1 ? datum.value + ':00' : ''", "grid": false, "labelFlush": false, "labelPadding": 3, "titlePadding": 3}}},
  "layer": [
   {"mark": {"type": "line", "clip": true, "strokeWidth": 1}, "encoding": {"y": {"field": "v", "type": "quantitative", "title": "Aerosol extinction [1/km]", "scale": {"domain": [0, 2.5], "nice": false}, "axis": {"values": [0,0.25,0.5,0.75,1,1.25,1.5,1.75,2,2.25,2.5], "labelExpr": "datum.value % 0.5 == 0 ? '' + datum.value : ''", "grid": true, "titleX": -40, "titleBaseline": "middle"}}, "color": {"field": "s", "type": "nominal", "scale": {"domain": ["S = 0.8","S = 1.0","S = 1.1","S = 1.1 (linear)"], "range": ["#00FF00","#0000FF","#FF0000","#FF00FF"]}, "legend": null}}},
   {"mark": {"type": "point", "filled": true, "opacity": 1, "size": 18, "clip": true}, "encoding": {"y": {"field": "v", "type": "quantitative", "title": "Aerosol extinction [1/km]", "axis": {"values": [0,0.25,0.5,0.75,1,1.25,1.5,1.75,2,2.25,2.5], "labelExpr": "datum.value % 0.5 == 0 ? '' + datum.value : ''", "grid": true, "titleX": -40, "titleBaseline": "middle"}}, "color": {"field": "s", "type": "nominal", "legend": null}, "shape": {"field": "s", "type": "nominal", "scale": {"domain": ["S = 0.8","S = 1.0","S = 1.1","S = 1.1 (linear)"], "range": ["triangle-up","square","square","diamond"]}, "legend": null}}},
   {"transform": [{"filter": "isValid(datum.lo)"}], "mark": {"type": "rule", "clip": true, "color": "#FF0000", "opacity": 0.6}, "encoding": {"y": {"field": "lo", "type": "quantitative", "title": "Aerosol extinction [1/km]", "axis": {"values": [0,0.25,0.5,0.75,1,1.25,1.5,1.75,2,2.25,2.5], "labelExpr": "datum.value % 0.5 == 0 ? '' + datum.value : ''", "grid": true, "titleX": -40, "titleBaseline": "middle"}}, "y2": {"field": "hi"}}},
   {"transform": [{"filter": "isValid(datum.lo)"}], "mark": {"type": "tick", "clip": true, "orient": "horizontal", "size": 6, "thickness": 1, "color": "#FF0000", "opacity": 0.6}, "encoding": {"y": {"field": "lo", "type": "quantitative", "title": "Aerosol extinction [1/km]", "axis": {"values": [0,0.25,0.5,0.75,1,1.25,1.5,1.75,2,2.25,2.5], "labelExpr": "datum.value % 0.5 == 0 ? '' + datum.value : ''", "grid": true, "titleX": -40, "titleBaseline": "middle"}}}},
   {"transform": [{"filter": "isValid(datum.lo)"}], "mark": {"type": "tick", "clip": true, "orient": "horizontal", "size": 6, "thickness": 1, "color": "#FF0000", "opacity": 0.6}, "encoding": {"y": {"field": "hi", "type": "quantitative", "title": "Aerosol extinction [1/km]", "axis": {"values": [0,0.25,0.5,0.75,1,1.25,1.5,1.75,2,2.25,2.5], "labelExpr": "datum.value % 0.5 == 0 ? '' + datum.value : ''", "grid": true, "titleX": -40, "titleBaseline": "middle"}}}},
   {"transform": [{"filter": "false"}], "mark": {"type": "point", "filled": true, "opacity": 1},
    "encoding": {"y": {"field": "v", "type": "quantitative", "title": "Aerosol extinction [1/km]", "axis": {"values": [0,0.25,0.5,0.75,1,1.25,1.5,1.75,2,2.25,2.5], "labelExpr": "datum.value % 0.5 == 0 ? '' + datum.value : ''", "grid": true, "titleX": -40, "titleBaseline": "middle"}},
     "fill": {"field": "s", "type": "nominal", "scale": {"domain": ["S = 0.8","S = 1.0","S = 1.1","S = 1.1 (linear)"], "range": ["#00FF00","#0000FF","#FF0000","#FF00FF"]}, "legend": {"title": null, "orient": "none", "legendX": 220, "legendY": 6, "fillColor": "white", "padding": 3, "rowPadding": 2, "labelFontSize": 12, "labelOffset": 8, "symbolSize": 100, "symbolStrokeWidth": 1, "symbolOpacity": 1, "labelColor": "#000", "labelLimit": 300}},
     "stroke": {"field": "s", "type": "nominal", "scale": {"domain": ["S = 0.8","S = 1.0","S = 1.1","S = 1.1 (linear)"], "range": ["#00FF00","#0000FF","#FF0000","#FF00FF"]}, "legend": {"title": null, "orient": "none", "legendX": 220, "legendY": 6, "fillColor": "white", "padding": 3, "rowPadding": 2, "labelFontSize": 12, "labelOffset": 8, "symbolSize": 100, "symbolStrokeWidth": 1, "symbolOpacity": 1, "labelColor": "#000", "labelLimit": 300}},
     "shape": {"field": "s", "type": "nominal", "scale": {"domain": ["S = 0.8","S = 1.0","S = 1.1","S = 1.1 (linear)"], "range": ["M-1,0H2M0.5,-0.55L1.1,0.45L-0.1,0.45Z","M-1,0H2M0,-0.5H1V0.5H0Z","M-1,0H2M0,-0.5H1V0.5H0Z","M-1,0H2M0.5,-0.55L1.05,0L0.5,0.55L-0.05,0Z"]}, "legend": {"title": null, "orient": "none", "legendX": 220, "legendY": 6, "fillColor": "white", "padding": 3, "rowPadding": 2, "labelFontSize": 12, "labelOffset": 8, "symbolSize": 100, "symbolStrokeWidth": 1, "symbolOpacity": 1, "labelColor": "#000", "labelLimit": 300}}}}
  ],
  "resolve": {"scale": {"shape": "independent", "fill": "independent", "stroke": "independent"}}
 },
 {"width": 368, "height": 219, "data": {"name": "e19"},
  "encoding": {"x": {"field": "t", "type": "quantitative", "scale": {"domain": [5, 16.7], "nice": false, "zero": false}, "axis": {"title": "Time", "values": [5,6,7,8,9,10,11,12,13,14,15,16], "labelExpr": "datum.value % 2 == 1 ? datum.value + ':00' : ''", "grid": false, "labelFlush": false, "labelPadding": 3, "titlePadding": 3}}},
  "layer": [
   {"mark": {"type": "line", "clip": true, "strokeWidth": 1}, "encoding": {"y": {"field": "v", "type": "quantitative", "title": "Aerosol extinction [1/km]", "scale": {"domain": [0, 2.5], "nice": false}, "axis": {"values": [0,0.25,0.5,0.75,1,1.25,1.5,1.75,2,2.25,2.5], "labelExpr": "datum.value % 0.5 == 0 ? '' + datum.value : ''", "grid": true, "titleX": -36, "titleBaseline": "middle"}}, "color": {"field": "s", "type": "nominal", "scale": {"domain": ["S = 0.8","S = 1.0","S = 1.1","S = 1.1 (linear)"], "range": ["#00FF00","#0000FF","#FF0000","#FF00FF"]}, "legend": null}}},
   {"mark": {"type": "point", "filled": true, "opacity": 1, "size": 18, "clip": true}, "encoding": {"y": {"field": "v", "type": "quantitative", "title": "Aerosol extinction [1/km]", "axis": {"values": [0,0.25,0.5,0.75,1,1.25,1.5,1.75,2,2.25,2.5], "labelExpr": "datum.value % 0.5 == 0 ? '' + datum.value : ''", "grid": true, "titleX": -36, "titleBaseline": "middle"}}, "color": {"field": "s", "type": "nominal", "legend": null}, "shape": {"field": "s", "type": "nominal", "scale": {"domain": ["S = 0.8","S = 1.0","S = 1.1","S = 1.1 (linear)"], "range": ["triangle-up","square","square","square"]}, "legend": null}}},
   {"transform": [{"filter": "isValid(datum.lo)"}], "mark": {"type": "rule", "clip": true, "color": "#FF0000", "opacity": 0.6}, "encoding": {"y": {"field": "lo", "type": "quantitative", "title": "Aerosol extinction [1/km]", "axis": {"values": [0,0.25,0.5,0.75,1,1.25,1.5,1.75,2,2.25,2.5], "labelExpr": "datum.value % 0.5 == 0 ? '' + datum.value : ''", "grid": true, "titleX": -36, "titleBaseline": "middle"}}, "y2": {"field": "hi"}}},
   {"transform": [{"filter": "isValid(datum.lo)"}], "mark": {"type": "tick", "clip": true, "orient": "horizontal", "size": 6, "thickness": 1, "color": "#FF0000", "opacity": 0.6}, "encoding": {"y": {"field": "lo", "type": "quantitative", "title": "Aerosol extinction [1/km]", "axis": {"values": [0,0.25,0.5,0.75,1,1.25,1.5,1.75,2,2.25,2.5], "labelExpr": "datum.value % 0.5 == 0 ? '' + datum.value : ''", "grid": true, "titleX": -36, "titleBaseline": "middle"}}}},
   {"transform": [{"filter": "isValid(datum.lo)"}], "mark": {"type": "tick", "clip": true, "orient": "horizontal", "size": 6, "thickness": 1, "color": "#FF0000", "opacity": 0.6}, "encoding": {"y": {"field": "hi", "type": "quantitative", "title": "Aerosol extinction [1/km]", "axis": {"values": [0,0.25,0.5,0.75,1,1.25,1.5,1.75,2,2.25,2.5], "labelExpr": "datum.value % 0.5 == 0 ? '' + datum.value : ''", "grid": true, "titleX": -36, "titleBaseline": "middle"}}}},
   {"transform": [{"filter": "false"}], "mark": {"type": "point", "filled": true, "opacity": 1},
    "encoding": {"y": {"field": "v", "type": "quantitative", "title": "Aerosol extinction [1/km]", "axis": {"values": [0,0.25,0.5,0.75,1,1.25,1.5,1.75,2,2.25,2.5], "labelExpr": "datum.value % 0.5 == 0 ? '' + datum.value : ''", "grid": true, "titleX": -36, "titleBaseline": "middle"}},
     "fill": {"field": "s", "type": "nominal", "scale": {"domain": ["S = 0.8","S = 1.0","S = 1.1","S = 1.1 (linear)"], "range": ["#00FF00","#0000FF","#FF0000","#FF00FF"]}, "legend": {"title": null, "orient": "none", "legendX": 258, "legendY": 7, "fillColor": "white", "padding": 3, "rowPadding": 3, "labelFontSize": 12, "labelOffset": 8, "symbolSize": 100, "symbolStrokeWidth": 1, "symbolOpacity": 1, "labelColor": "#000", "labelLimit": 300}},
     "stroke": {"field": "s", "type": "nominal", "scale": {"domain": ["S = 0.8","S = 1.0","S = 1.1","S = 1.1 (linear)"], "range": ["#00FF00","#0000FF","#FF0000","#FF00FF"]}, "legend": {"title": null, "orient": "none", "legendX": 258, "legendY": 7, "fillColor": "white", "padding": 3, "rowPadding": 3, "labelFontSize": 12, "labelOffset": 8, "symbolSize": 100, "symbolStrokeWidth": 1, "symbolOpacity": 1, "labelColor": "#000", "labelLimit": 300}},
     "shape": {"field": "s", "type": "nominal", "scale": {"domain": ["S = 0.8","S = 1.0","S = 1.1","S = 1.1 (linear)"], "range": ["M-1,0H2M0.5,-0.55L1.1,0.45L-0.1,0.45Z","M-1,0H2M0,-0.5H1V0.5H0Z","M-1,0H2M0,-0.5H1V0.5H0Z","M-1,0H2M0,-0.5H1V0.5H0Z"]}, "legend": {"title": null, "orient": "none", "legendX": 258, "legendY": 7, "fillColor": "white", "padding": 3, "rowPadding": 3, "labelFontSize": 12, "labelOffset": 8, "symbolSize": 100, "symbolStrokeWidth": 1, "symbolOpacity": 1, "labelColor": "#000", "labelLimit": 300}}}}
  ],
  "resolve": {"scale": {"shape": "independent", "fill": "independent", "stroke": "independent"}}
 }
]
}
